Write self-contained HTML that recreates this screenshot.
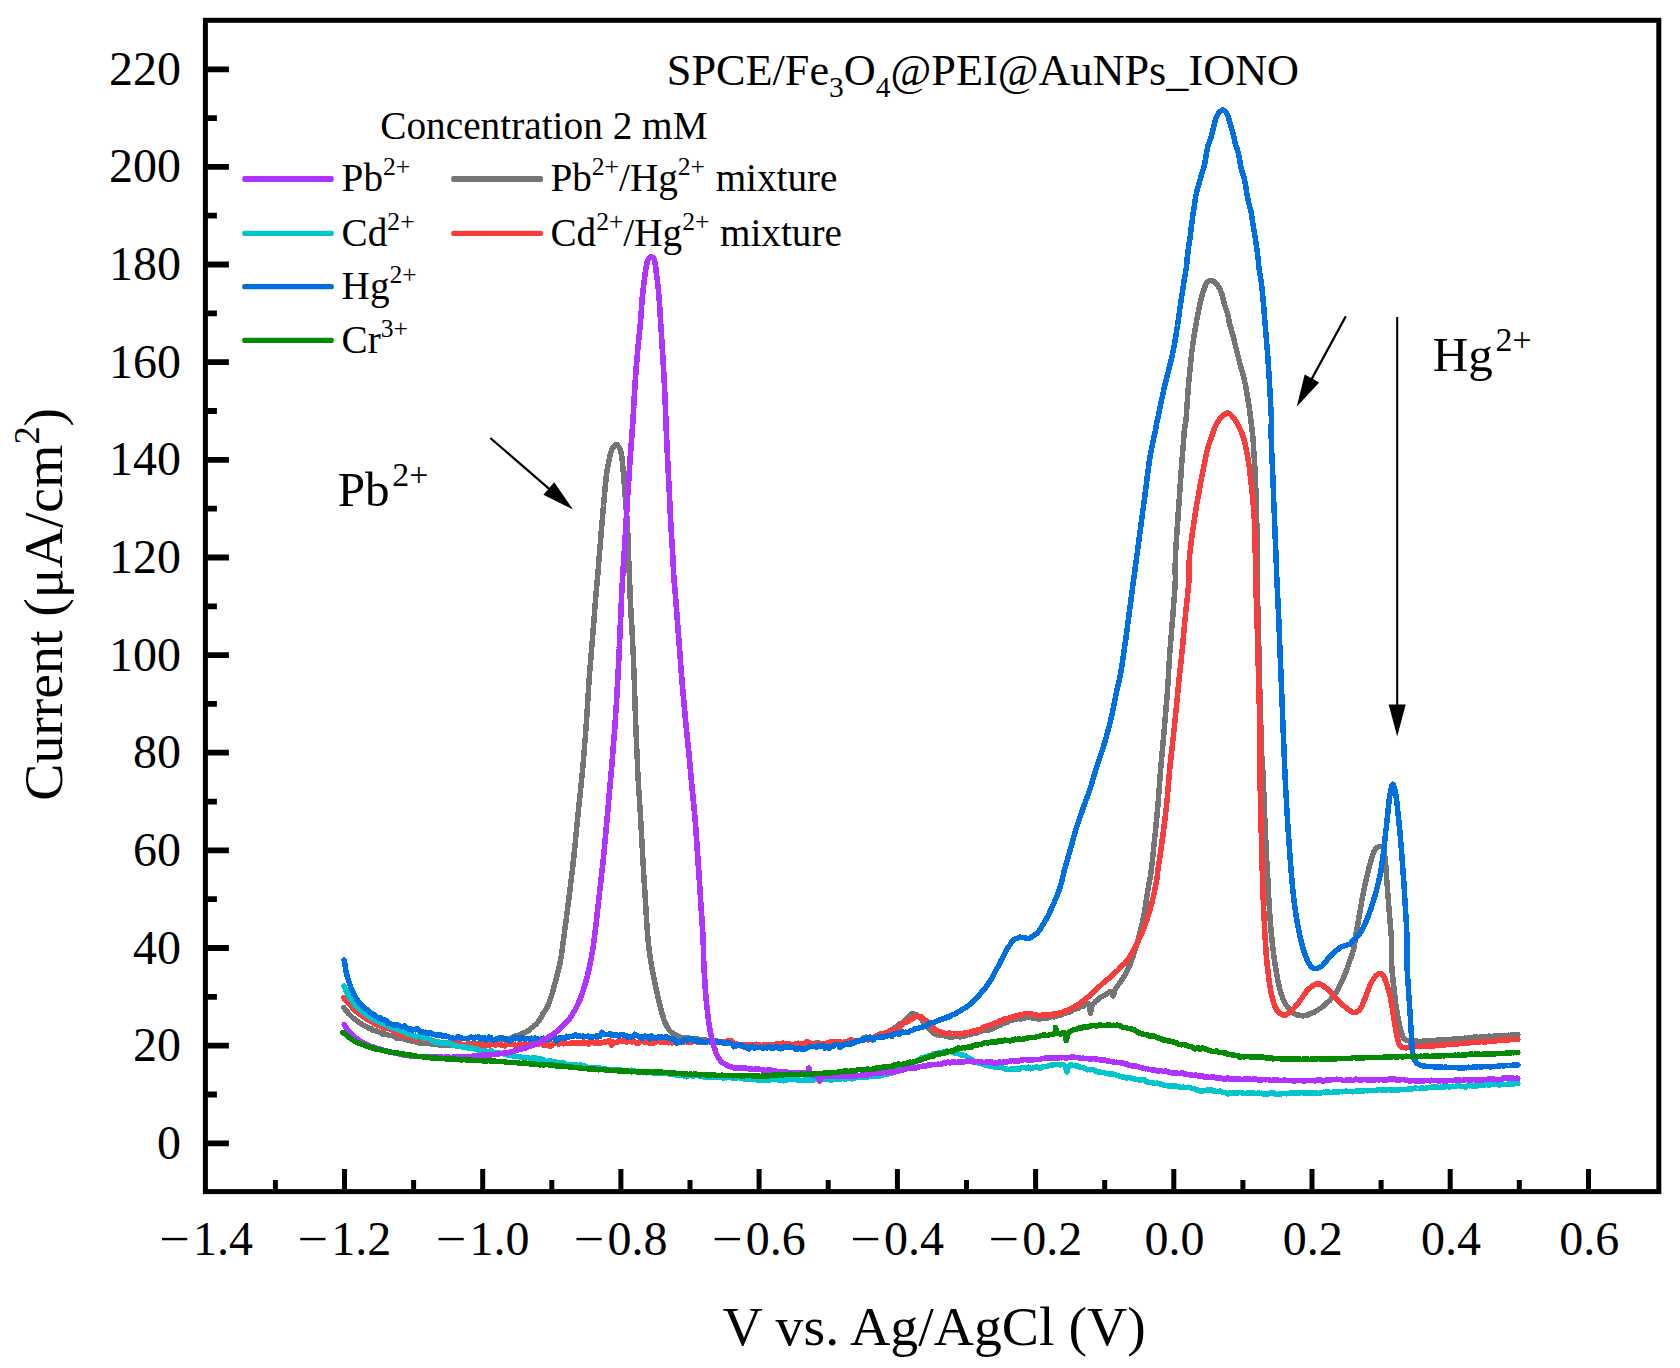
<!DOCTYPE html>
<html lang="en">
<head>
<meta charset="utf-8">
<title>DPASV chart</title>
<style>
html,body{margin:0;padding:0;background:#fff;}
body{width:1680px;height:1368px;overflow:hidden;}
svg{display:block;}
text{font-family:"Liberation Serif", "Times New Roman", Times, serif;fill:#000;}
.curve{fill:none;stroke-linecap:round;stroke-linejoin:round;}
</style>
</head>
<body>
<svg width="1680" height="1368" viewBox="0 0 1680 1368">
<rect x="0" y="0" width="1680" height="1368" fill="#fff"/>
<g id="curves" shape-rendering="crispEdges">
<path class="curve" stroke="#757575" stroke-width="5.5" d="M343.8 1007.6L344.4 1008.4L345.3 1009.5L346.4 1011.0L347.6 1012.4L348.8 1014.0L350.0 1014.9L351.1 1016.0L352.3 1017.3L353.5 1018.2L354.8 1019.1L356.1 1020.2L357.5 1021.3L358.8 1022.1L360.1 1023.0L361.5 1024.0L362.9 1024.9L364.4 1025.6L365.9 1026.4L367.5 1027.3L368.9 1028.4L370.2 1028.4L371.5 1028.9L372.8 1030.1L374.3 1030.5L375.9 1030.8L377.8 1031.5L380.0 1032.6L381.2 1033.1L382.5 1034.0L383.9 1034.1L385.4 1034.1L386.9 1034.7L388.5 1035.2L390.1 1035.4L391.7 1035.6L393.4 1036.0L395.1 1036.9L396.8 1038.2L398.5 1037.8L400.1 1038.5L401.8 1038.2L403.4 1038.6L405.0 1039.1L406.7 1039.8L408.3 1040.5L410.0 1040.8L411.7 1040.7L413.3 1041.2L415.0 1041.7L416.7 1042.2L418.3 1042.8L420.0 1043.1L421.7 1043.3L423.3 1043.1L425.0 1043.1L426.7 1043.4L428.3 1043.4L430.0 1043.7L431.7 1044.1L433.3 1044.1L435.0 1044.4L436.7 1044.6L438.3 1044.8L440.0 1044.8L441.7 1044.8L443.3 1045.5L445.0 1044.8L446.7 1045.2L448.3 1045.0L450.0 1044.8L451.7 1045.0L453.3 1044.7L455.0 1045.3L456.7 1045.6L458.3 1045.5L460.0 1045.4L461.7 1044.6L463.3 1044.8L465.0 1044.4L466.7 1044.8L468.3 1044.2L470.0 1044.0L471.7 1043.7L473.3 1043.4L475.0 1044.3L476.7 1044.0L478.3 1043.2L480.0 1043.0L481.7 1042.6L483.4 1042.1L485.2 1042.6L487.1 1041.4L488.9 1041.3L490.7 1041.9L492.5 1041.4L494.3 1041.1L496.1 1040.5L497.8 1040.8L499.4 1040.2L501.0 1040.1L502.4 1039.9L503.8 1039.4L505.0 1039.5L507.5 1038.9L509.4 1038.5L510.8 1038.2L512.0 1037.3L513.4 1037.0L515.0 1036.2L516.5 1035.5L518.0 1035.6L519.6 1034.9L521.2 1034.2L522.9 1033.3L524.5 1032.5L526.0 1032.1L527.5 1031.0L528.9 1030.4L530.3 1028.8L531.6 1027.5L532.9 1027.2L534.1 1025.7L535.3 1024.7L536.4 1024.0L537.5 1022.6L538.6 1021.3L539.6 1019.7L540.5 1018.3L541.4 1016.8L542.2 1015.4L543.0 1013.6L543.8 1012.4L544.7 1011.2L545.5 1010.0L546.3 1008.6L547.1 1007.3L547.9 1005.8L548.8 1003.7L549.2 1002.3L549.7 1001.1L550.2 999.7L550.7 998.2L551.2 996.7L551.7 995.0L552.2 993.3L552.7 991.5L553.2 989.5L553.8 987.4L554.2 986.1L554.5 984.8L554.9 983.3L555.4 981.8L555.8 980.3L556.2 978.7L556.6 977.0L557.0 975.5L557.5 973.9L557.9 972.2L558.3 970.6L558.7 969.0L559.1 967.3L559.4 965.6L559.8 964.1L560.1 962.5L560.4 960.9L560.7 959.3L561.0 957.8L561.2 956.3L561.4 954.8L561.7 953.4L561.9 951.9L562.1 950.4L562.3 948.8L562.5 947.2L562.7 945.5L562.9 943.8L563.2 942.0L563.4 940.0L563.7 937.9L563.9 936.6L564.1 935.1L564.3 933.7L564.5 932.2L564.7 930.6L564.9 929.1L565.1 927.5L565.3 925.9L565.6 924.2L565.8 922.5L566.0 920.8L566.2 919.1L566.5 917.3L566.7 915.6L566.9 913.8L567.1 912.1L567.4 910.4L567.6 908.6L567.8 906.9L568.0 905.2L568.3 903.4L568.5 901.7L568.7 900.1L568.9 898.4L569.1 896.8L569.3 895.1L569.5 893.5L569.7 891.8L569.9 890.2L570.1 888.5L570.3 886.9L570.5 885.2L570.7 883.6L570.9 881.9L571.1 880.3L571.3 878.6L571.5 877.0L571.7 875.4L571.9 873.7L572.1 872.1L572.3 870.4L572.5 868.8L572.7 867.1L572.9 865.5L573.1 863.8L573.2 862.2L573.4 860.5L573.6 858.9L573.8 857.3L574.0 855.6L574.1 854.0L574.3 852.3L574.5 850.7L574.6 849.1L574.8 847.4L575.0 845.8L575.1 844.1L575.3 842.5L575.4 840.8L575.6 839.2L575.7 837.6L575.9 835.9L576.1 834.3L576.2 832.6L576.4 831.0L576.5 829.3L576.7 827.7L576.8 826.1L577.0 824.4L577.2 822.8L577.3 821.1L577.5 819.5L577.7 817.8L577.8 816.2L578.0 814.5L578.2 812.7L578.4 811.0L578.6 809.2L578.7 807.5L578.9 805.7L579.1 803.9L579.3 802.2L579.5 800.4L579.7 798.7L579.9 796.9L580.0 795.2L580.2 793.6L580.4 791.9L580.6 790.3L580.7 788.6L580.9 787.1L581.0 785.6L581.2 784.1L581.3 782.7L581.5 781.3L581.6 780.0L581.8 777.8L582.0 775.8L582.2 774.1L582.3 772.5L582.5 771.0L582.6 769.6L582.7 768.3L582.8 766.9L583.0 765.4L583.1 763.8L583.3 762.1L583.4 760.1L583.6 757.9L583.7 756.6L583.8 755.2L583.9 753.8L584.1 752.3L584.2 750.8L584.3 749.2L584.4 747.7L584.6 746.0L584.7 744.4L584.8 742.7L585.0 741.0L585.1 739.2L585.3 737.5L585.4 735.7L585.5 734.0L585.7 732.2L585.8 730.4L585.9 728.7L586.1 726.9L586.2 725.2L586.3 723.5L586.5 721.7L586.6 720.1L586.7 718.4L586.8 716.8L586.9 715.1L587.0 713.5L587.1 711.8L587.2 710.2L587.4 708.5L587.5 706.9L587.6 705.2L587.7 703.6L587.7 701.9L587.8 700.3L587.9 698.6L588.0 697.0L588.1 695.4L588.2 693.7L588.3 692.1L588.4 690.4L588.5 688.8L588.6 687.1L588.7 685.5L588.9 683.8L589.0 682.2L589.1 680.5L589.2 678.9L589.3 677.3L589.4 675.6L589.6 674.0L589.7 672.3L589.8 670.7L590.0 669.0L590.1 667.4L590.2 665.8L590.4 664.1L590.5 662.5L590.6 660.8L590.8 659.2L590.9 657.6L591.0 655.9L591.2 654.3L591.3 652.6L591.5 651.0L591.6 649.4L591.7 647.7L591.9 646.1L592.0 644.4L592.1 642.8L592.3 641.1L592.4 639.5L592.5 637.8L592.7 636.1L592.8 634.4L592.9 632.7L593.1 631.0L593.2 629.2L593.3 627.5L593.5 625.7L593.6 623.9L593.8 622.2L593.9 620.4L594.0 618.7L594.2 616.9L594.3 615.2L594.4 613.5L594.6 611.9L594.7 610.3L594.8 608.7L594.9 607.1L595.0 605.6L595.2 604.1L595.3 602.7L595.4 601.3L595.5 600.0L595.7 597.7L595.9 595.7L596.0 593.8L596.2 592.1L596.3 590.4L596.5 588.9L596.6 587.4L596.8 585.9L596.9 584.4L597.1 582.9L597.2 581.3L597.3 579.7L597.5 577.9L597.6 576.4L597.8 574.8L597.9 573.2L598.0 571.6L598.1 570.0L598.3 568.4L598.4 566.7L598.5 565.0L598.7 563.3L598.8 561.6L598.9 560.0L599.1 558.3L599.2 556.6L599.3 554.9L599.5 553.3L599.6 551.6L599.7 550.0L599.9 548.3L600.0 546.7L600.1 545.0L600.3 543.4L600.4 541.7L600.6 540.1L600.7 538.5L600.8 536.8L601.0 535.2L601.1 533.5L601.2 531.9L601.4 530.2L601.5 528.6L601.7 526.9L601.8 525.3L601.9 523.6L602.1 522.0L602.2 520.4L602.4 518.7L602.5 517.1L602.6 515.4L602.8 513.8L602.9 512.1L603.1 510.4L603.2 508.8L603.3 507.1L603.5 505.5L603.6 503.8L603.8 502.2L603.9 500.5L604.1 498.9L604.3 497.2L604.4 495.6L604.6 493.9L604.7 492.2L604.9 490.5L605.0 488.7L605.2 487.0L605.4 485.3L605.5 483.6L605.7 482.0L605.9 480.3L606.0 478.7L606.2 477.1L606.4 475.6L606.6 474.1L606.8 472.6L607.1 470.7L607.4 468.8L607.7 466.9L608.1 465.0L608.4 463.2L608.8 461.5L609.1 459.8L609.5 458.2L609.8 456.7L610.1 455.3L610.4 454.0L610.7 452.9L611.4 450.4L612.0 448.7L612.6 447.5L613.2 447.0L614.5 445.5L615.9 444.5L617.3 444.8L618.6 446.7L619.3 447.5L619.9 448.8L620.6 450.3L621.2 452.9L621.4 454.0L621.6 455.3L621.8 456.7L621.9 458.2L622.1 459.8L622.3 461.5L622.5 463.2L622.6 465.0L622.8 466.9L623.0 468.8L623.1 470.7L623.3 472.6L623.4 474.1L623.6 475.6L623.7 477.1L623.8 478.7L624.0 480.3L624.1 482.0L624.2 483.6L624.4 485.3L624.5 487.0L624.6 488.7L624.8 490.5L624.9 492.2L625.0 493.9L625.1 495.6L625.3 497.2L625.4 498.9L625.5 500.5L625.7 502.2L625.8 503.9L625.9 505.5L626.1 507.2L626.2 508.8L626.3 510.5L626.5 512.1L626.6 513.7L626.7 515.4L626.9 517.0L627.0 518.7L627.1 520.4L627.2 522.0L627.3 523.7L627.4 525.3L627.5 526.9L627.6 528.6L627.6 530.2L627.7 531.9L627.8 533.5L627.8 535.2L627.9 536.8L628.0 538.5L628.0 540.1L628.1 541.7L628.1 543.4L628.2 545.0L628.2 546.7L628.3 548.3L628.3 550.0L628.4 551.6L628.5 553.3L628.5 554.9L628.6 556.6L628.7 558.3L628.7 560.0L628.8 561.6L628.9 563.3L629.0 565.0L629.0 566.7L629.1 568.3L629.2 570.0L629.2 571.6L629.3 573.2L629.4 574.8L629.4 576.4L629.5 577.9L629.6 579.7L629.6 581.4L629.7 582.9L629.7 584.4L629.8 585.9L629.8 587.4L629.9 588.9L629.9 590.4L630.0 592.1L630.0 593.8L630.1 595.7L630.2 597.7L630.3 600.0L630.4 601.3L630.4 602.7L630.5 604.1L630.6 605.6L630.7 607.1L630.8 608.7L630.9 610.3L630.9 611.9L631.0 613.5L631.1 615.2L631.2 616.9L631.3 618.7L631.4 620.4L631.5 622.2L631.7 623.9L631.8 625.7L631.9 627.5L632.0 629.2L632.1 631.0L632.1 632.7L632.2 634.4L632.3 636.2L632.4 637.8L632.5 639.5L632.6 641.1L632.7 642.8L632.7 644.4L632.8 646.1L632.9 647.7L633.0 649.4L633.0 651.0L633.1 652.6L633.2 654.3L633.3 655.9L633.3 657.6L633.4 659.2L633.5 660.8L633.5 662.5L633.6 664.1L633.7 665.8L633.7 667.4L633.8 669.0L633.9 670.7L633.9 672.3L634.0 674.0L634.1 675.6L634.1 677.3L634.2 678.9L634.3 680.5L634.3 682.2L634.4 683.8L634.4 685.5L634.5 687.1L634.5 688.8L634.6 690.4L634.6 692.1L634.7 693.7L634.7 695.4L634.8 697.0L634.9 698.6L634.9 700.3L635.0 701.9L635.0 703.6L635.1 705.2L635.1 706.9L635.2 708.5L635.2 710.2L635.3 711.8L635.3 713.5L635.4 715.1L635.4 716.8L635.5 718.4L635.6 720.1L635.6 721.7L635.7 723.5L635.8 725.2L635.8 726.9L635.9 728.7L636.0 730.4L636.1 732.2L636.1 734.0L636.2 735.7L636.3 737.5L636.4 739.2L636.4 741.0L636.5 742.7L636.6 744.4L636.7 746.0L636.7 747.7L636.8 749.3L636.9 750.8L637.0 752.3L637.0 753.8L637.1 755.2L637.1 756.6L637.2 757.9L637.3 760.1L637.4 762.1L637.4 763.8L637.5 765.4L637.6 766.9L637.6 768.3L637.7 769.6L637.7 771.0L637.8 772.5L637.9 774.1L638.0 775.8L638.1 777.8L638.2 780.0L638.3 781.3L638.4 782.7L638.4 784.1L638.5 785.6L638.6 787.1L638.7 788.6L638.8 790.2L638.9 791.9L639.0 793.5L639.2 795.2L639.3 796.9L639.4 798.7L639.5 800.4L639.6 802.2L639.7 803.9L639.8 805.7L640.0 807.5L640.1 809.2L640.2 811.0L640.3 812.7L640.4 814.4L640.5 816.2L640.6 817.8L640.7 819.5L640.8 821.1L640.9 822.8L641.0 824.4L641.1 826.1L641.2 827.7L641.2 829.4L641.3 831.0L641.4 832.6L641.5 834.3L641.6 835.9L641.7 837.6L641.8 839.2L641.8 840.8L641.9 842.5L642.0 844.1L642.1 845.8L642.2 847.4L642.3 849.0L642.3 850.7L642.4 852.3L642.5 854.0L642.6 855.6L642.7 857.3L642.8 858.9L642.9 860.5L643.0 862.2L643.1 863.8L643.2 865.5L643.3 867.1L643.4 868.8L643.5 870.4L643.6 872.1L643.7 873.7L643.8 875.4L643.9 877.0L644.0 878.6L644.1 880.3L644.2 881.9L644.3 883.6L644.4 885.2L644.6 886.9L644.7 888.5L644.8 890.2L644.9 891.8L645.0 893.5L645.1 895.1L645.2 896.8L645.3 898.4L645.4 900.1L645.5 901.7L645.6 903.4L645.7 905.1L645.8 906.8L645.9 908.6L646.0 910.3L646.1 912.0L646.2 913.7L646.3 915.5L646.4 917.2L646.5 918.9L646.6 920.6L646.7 922.3L646.8 924.0L647.0 925.6L647.1 927.2L647.2 928.9L647.3 930.4L647.4 932.0L647.5 933.5L647.6 935.0L647.8 936.5L647.9 937.9L648.1 939.8L648.3 941.7L648.4 943.5L648.6 945.2L648.8 946.8L649.0 948.4L649.2 950.0L649.4 951.6L649.6 953.1L649.8 954.6L650.0 956.1L650.2 957.6L650.5 959.1L650.7 960.6L651.0 962.2L651.2 963.8L651.5 965.5L651.8 967.1L652.1 968.8L652.4 970.4L652.7 972.1L653.0 973.8L653.4 975.5L653.7 977.3L654.1 979.0L654.4 980.7L654.8 982.4L655.1 984.2L655.5 985.8L655.8 987.4L656.2 989.1L656.5 990.6L656.9 992.1L657.2 993.5L657.5 994.9L658.0 997.0L658.4 999.0L658.8 1000.8L659.2 1002.6L659.7 1004.4L660.1 1006.1L660.5 1007.8L660.9 1009.3L661.3 1010.7L661.7 1012.2L662.1 1013.7L662.5 1015.1L663.1 1016.9L663.7 1018.9L664.3 1020.5L664.8 1022.1L665.4 1023.5L666.1 1024.8L666.8 1026.1L667.5 1027.4L668.6 1029.2L669.7 1030.7L670.9 1031.9L672.2 1032.6L673.6 1033.8L675.0 1034.8L676.4 1035.3L677.8 1036.4L679.2 1036.8L680.8 1037.3L682.7 1037.8L685.0 1037.9L686.3 1037.7L687.7 1037.9L689.2 1037.9L690.7 1039.1L692.4 1039.3L694.1 1038.9L695.8 1038.9L697.6 1039.1L699.4 1039.5L701.3 1039.3L703.1 1039.5L705.0 1039.8L706.6 1040.4L708.2 1040.5L709.9 1040.3L711.7 1040.1L713.5 1040.4L715.4 1040.6L717.2 1041.2L719.0 1041.4L720.8 1041.8L722.6 1042.4L724.3 1042.6L725.9 1042.6L727.4 1043.2L728.8 1043.6L730.0 1042.9L732.1 1043.5L733.0 1044.5L733.4 1044.1L734.3 1044.3L736.2 1044.9L740.0 1045.1L741.0 1045.2L742.1 1045.0L743.3 1045.1L744.5 1045.4L745.8 1045.2L747.2 1045.5L748.6 1045.2L750.1 1044.4L751.6 1044.7L753.2 1044.8L754.8 1044.8L756.4 1045.1L758.1 1044.5L759.9 1044.8L761.6 1045.7L763.4 1044.8L765.2 1044.9L767.0 1045.4L768.8 1044.8L770.6 1044.4L772.5 1044.6L774.3 1044.9L776.1 1044.8L777.9 1044.6L779.7 1044.5L781.5 1044.0L783.3 1044.1L785.0 1044.9L786.7 1044.5L788.4 1044.5L790.0 1043.9L791.6 1044.7L793.3 1044.9L794.9 1044.3L796.6 1043.9L798.3 1043.2L800.1 1044.3L801.8 1043.7L803.5 1043.3L805.3 1044.0L807.0 1043.4L808.8 1042.7L810.5 1043.6L812.2 1044.6L814.0 1044.1L815.7 1043.2L817.4 1043.2L819.1 1043.1L820.8 1043.6L822.5 1043.8L824.1 1043.7L825.7 1043.3L827.3 1043.4L828.9 1042.8L830.4 1043.4L831.9 1043.5L833.4 1042.9L834.8 1043.1L836.1 1042.8L837.5 1042.5L838.8 1041.9L840.0 1042.1L842.4 1042.8L844.6 1042.0L846.7 1042.0L848.6 1042.5L850.4 1043.1L852.0 1040.8L853.6 1041.4L855.1 1041.2L856.6 1041.3L858.0 1040.9L859.3 1040.9L860.7 1040.4L862.1 1039.7L863.5 1038.0L865.0 1039.1L866.9 1039.4L868.7 1038.7L870.5 1038.3L872.2 1038.4L873.9 1037.8L875.6 1037.4L877.3 1037.2L878.9 1036.1L880.5 1036.0L882.0 1035.4L883.5 1034.4L885.0 1034.1L886.6 1034.4L888.1 1032.8L889.6 1031.5L891.0 1030.3L892.4 1029.4L893.8 1028.5L895.1 1027.5L896.4 1027.3L897.6 1026.3L898.8 1025.0L900.0 1023.7L901.5 1023.5L903.0 1022.2L904.3 1020.7L905.6 1019.7L906.8 1018.4L908.0 1017.2L909.0 1016.5L910.0 1015.4L911.9 1013.8L913.3 1014.0L915.0 1014.4L916.3 1014.9L917.8 1016.3L919.4 1017.3L921.0 1018.8L922.5 1020.7L923.5 1021.9L924.6 1023.2L925.6 1024.4L926.6 1025.9L927.7 1027.3L928.8 1028.4L930.0 1030.2L931.5 1031.0L933.1 1032.8L934.7 1033.5L936.4 1034.8L938.2 1034.6L940.0 1035.5L941.7 1035.6L943.4 1035.7L945.2 1035.8L947.0 1036.3L948.9 1037.0L950.7 1037.2L952.5 1037.3L954.3 1036.4L956.1 1036.3L957.9 1036.3L959.6 1036.9L961.4 1036.6L963.2 1036.2L965.0 1035.8L966.6 1034.9L968.1 1034.7L969.7 1034.8L971.2 1034.1L972.8 1033.6L974.4 1033.1L975.9 1033.1L977.5 1032.9L979.1 1031.9L980.6 1031.5L982.2 1030.6L983.8 1030.6L985.3 1030.3L986.9 1029.3L988.4 1030.2L990.0 1029.5L991.6 1029.1L993.1 1028.5L994.7 1027.4L996.2 1026.5L997.8 1025.9L999.4 1025.5L1000.9 1025.0L1002.5 1023.6L1004.1 1023.2L1005.6 1022.2L1007.2 1022.5L1008.8 1021.2L1010.3 1020.0L1011.9 1020.3L1013.4 1019.4L1015.0 1019.1L1016.8 1019.1L1018.6 1018.5L1020.4 1019.1L1022.1 1018.2L1023.9 1018.3L1025.7 1017.5L1027.5 1017.7L1029.3 1017.4L1031.1 1017.3L1032.9 1018.2L1034.6 1018.1L1036.4 1017.7L1038.2 1018.9L1040.0 1019.1L1041.8 1018.3L1043.6 1018.2L1045.4 1018.4L1047.1 1017.9L1048.9 1017.7L1050.7 1017.1L1052.5 1016.6L1054.1 1017.0L1055.6 1016.5L1057.2 1015.4L1058.8 1015.6L1060.3 1015.0L1061.9 1014.6L1063.4 1013.9L1065.0 1013.2L1066.6 1012.2L1068.2 1012.1L1069.9 1011.9L1071.6 1011.0L1073.2 1009.8L1074.7 1009.2L1076.2 1009.0L1077.5 1008.5L1079.4 1007.6L1081.0 1006.5L1082.5 1006.0L1083.8 1005.9L1085.0 1004.7L1087.2 1003.4L1088.8 1004.2L1089.2 1005.3L1089.6 1007.4L1089.9 1009.7L1090.2 1011.7L1090.5 1013.1L1090.8 1011.8L1091.0 1009.8L1091.4 1007.3L1092.5 1004.9L1093.4 1003.6L1094.5 1002.7L1095.7 1001.0L1097.1 1000.3L1098.5 999.3L1099.9 997.7L1101.3 996.9L1102.5 996.2L1104.1 995.4L1105.8 994.4L1107.4 993.5L1108.9 992.3L1110.2 991.8L1111.2 991.4L1112.3 992.5L1112.7 995.0L1113.0 996.1L1113.5 995.6L1114.0 993.7L1114.5 991.7L1115.0 989.9L1115.8 988.5L1117.5 986.2L1118.1 985.1L1118.9 983.9L1119.8 982.6L1120.7 981.4L1121.7 979.9L1122.7 978.6L1123.7 976.8L1124.8 975.1L1125.7 973.5L1126.7 971.8L1127.5 969.9L1128.2 968.5L1128.8 967.3L1129.4 965.8L1130.0 964.5L1130.6 963.1L1131.1 961.6L1131.7 960.0L1132.2 958.6L1132.8 957.0L1133.3 955.1L1133.9 953.5L1134.4 951.8L1135.0 950.0L1135.4 948.5L1135.9 947.1L1136.4 945.6L1136.8 944.2L1137.3 942.6L1137.7 941.1L1138.2 939.4L1138.7 937.7L1139.1 936.0L1139.6 934.4L1140.0 932.7L1140.5 931.0L1140.9 929.3L1141.3 927.5L1141.7 925.8L1142.1 924.1L1142.5 922.5L1142.8 921.1L1143.1 919.4L1143.4 917.8L1143.7 916.2L1144.0 914.6L1144.3 913.0L1144.6 911.3L1144.8 909.6L1145.1 908.0L1145.4 906.4L1145.6 904.7L1145.9 903.1L1146.1 901.5L1146.3 899.9L1146.6 898.4L1146.8 896.8L1147.0 895.4L1147.3 893.9L1147.5 892.5L1147.8 890.6L1148.1 888.9L1148.4 887.2L1148.7 885.5L1149.0 883.9L1149.3 882.4L1149.6 880.8L1149.8 879.2L1150.1 877.7L1150.4 876.2L1150.6 874.6L1150.9 873.1L1151.1 871.6L1151.3 870.0L1151.5 868.3L1151.7 866.7L1151.9 865.2L1152.1 863.8L1152.3 862.3L1152.4 860.8L1152.6 859.2L1152.7 857.6L1152.9 856.0L1153.1 854.2L1153.2 852.2L1153.5 850.2L1153.7 847.9L1153.8 846.6L1154.0 845.2L1154.1 843.8L1154.3 842.3L1154.4 840.8L1154.6 839.3L1154.7 837.7L1154.9 836.0L1155.1 834.4L1155.3 832.7L1155.4 831.0L1155.6 829.2L1155.8 827.5L1156.0 825.8L1156.1 824.0L1156.3 822.2L1156.5 820.5L1156.7 818.7L1156.8 816.9L1157.0 815.2L1157.2 813.5L1157.3 811.8L1157.5 810.1L1157.6 808.4L1157.8 806.8L1157.9 805.1L1158.1 803.5L1158.2 801.8L1158.3 800.2L1158.4 798.6L1158.6 796.9L1158.7 795.3L1158.8 793.6L1158.9 792.0L1159.1 790.3L1159.2 788.7L1159.3 787.0L1159.4 785.4L1159.5 783.7L1159.6 782.1L1159.8 780.5L1159.9 778.8L1160.0 777.2L1160.1 775.5L1160.3 773.9L1160.4 772.2L1160.5 770.6L1160.7 769.0L1160.8 767.3L1160.9 765.7L1161.1 764.0L1161.2 762.4L1161.4 760.7L1161.5 759.1L1161.7 757.4L1161.8 755.8L1162.0 754.2L1162.1 752.5L1162.3 750.9L1162.4 749.2L1162.6 747.6L1162.7 745.9L1162.9 744.3L1163.0 742.6L1163.2 741.0L1163.3 739.3L1163.5 737.7L1163.6 736.0L1163.8 734.4L1163.9 732.8L1164.1 731.1L1164.2 729.5L1164.4 727.8L1164.5 726.2L1164.6 724.5L1164.8 722.8L1164.9 721.1L1165.1 719.4L1165.2 717.8L1165.4 716.1L1165.5 714.4L1165.7 712.7L1165.8 711.0L1166.0 709.3L1166.1 707.7L1166.2 706.0L1166.4 704.3L1166.5 702.7L1166.6 701.0L1166.8 699.4L1166.9 697.8L1167.0 696.2L1167.2 694.6L1167.3 693.1L1167.4 691.5L1167.5 690.0L1167.6 688.2L1167.7 686.5L1167.9 684.7L1168.0 683.1L1168.1 681.4L1168.2 679.8L1168.3 678.2L1168.3 676.6L1168.4 675.0L1168.5 673.4L1168.6 671.8L1168.7 670.2L1168.8 668.6L1168.9 667.0L1169.0 665.4L1169.1 663.8L1169.2 662.1L1169.3 660.5L1169.4 658.7L1169.5 657.0L1169.6 655.5L1169.7 653.9L1169.8 652.3L1170.0 650.7L1170.1 649.1L1170.2 647.5L1170.3 645.9L1170.5 644.3L1170.6 642.7L1170.7 641.0L1170.9 639.4L1171.0 637.7L1171.2 636.0L1171.3 634.4L1171.4 632.7L1171.6 631.1L1171.7 629.4L1171.8 627.7L1172.0 626.1L1172.1 624.4L1172.2 622.8L1172.4 621.1L1172.5 619.5L1172.6 617.8L1172.8 616.2L1172.9 614.4L1173.0 612.7L1173.2 610.9L1173.3 609.1L1173.5 607.3L1173.6 605.4L1173.7 603.6L1173.9 601.8L1174.0 600.0L1174.1 598.3L1174.3 596.5L1174.4 594.8L1174.5 593.2L1174.6 591.5L1174.8 590.0L1174.9 588.5L1175.0 587.0L1175.0 585.6L1175.1 584.3L1175.2 583.1L1175.2 582.0L1175.4 579.0L1175.4 577.0L1175.3 575.6L1175.2 574.5L1175.1 573.4L1175.0 572.0L1175.0 570.0L1175.0 568.6L1175.1 567.1L1175.1 565.5L1175.2 563.9L1175.3 562.1L1175.3 560.3L1175.4 558.5L1175.5 556.7L1175.6 554.9L1175.7 553.0L1175.7 551.3L1175.8 549.5L1175.9 547.9L1176.0 546.2L1176.1 544.5L1176.2 542.8L1176.3 541.1L1176.4 539.5L1176.6 537.9L1176.7 536.3L1176.8 534.6L1176.9 533.0L1177.0 531.4L1177.1 529.8L1177.2 528.2L1177.3 526.5L1177.5 524.9L1177.6 523.2L1177.7 521.6L1177.8 519.9L1177.9 518.3L1178.0 516.6L1178.1 515.0L1178.2 513.4L1178.3 511.7L1178.4 510.1L1178.6 508.4L1178.7 506.8L1178.8 505.1L1178.9 503.5L1179.0 501.8L1179.2 500.2L1179.3 498.5L1179.4 496.9L1179.5 495.3L1179.6 493.6L1179.8 492.0L1179.9 490.3L1180.0 488.7L1180.1 487.0L1180.2 485.4L1180.3 483.8L1180.4 482.1L1180.5 480.5L1180.6 478.8L1180.8 477.2L1180.9 475.5L1181.0 473.9L1181.1 472.2L1181.2 470.6L1181.3 468.9L1181.4 467.3L1181.6 465.7L1181.7 464.0L1181.8 462.4L1182.0 460.7L1182.1 459.1L1182.2 457.4L1182.4 455.8L1182.5 454.1L1182.6 452.5L1182.8 450.9L1182.9 449.2L1183.0 447.5L1183.2 445.8L1183.3 444.0L1183.4 442.2L1183.6 440.4L1183.7 438.6L1183.8 436.9L1184.0 435.2L1184.1 433.6L1184.2 432.1L1184.3 430.7L1184.5 429.5L1184.8 427.1L1185.1 425.5L1185.4 424.2L1185.7 422.8L1185.9 421.0L1186.1 419.6L1186.2 418.1L1186.3 416.5L1186.4 414.8L1186.5 413.0L1186.6 411.3L1186.7 409.6L1186.8 407.9L1187.0 406.3L1187.1 404.6L1187.2 403.0L1187.3 401.3L1187.4 399.7L1187.5 398.0L1187.6 396.4L1187.8 394.7L1187.9 393.1L1188.0 391.5L1188.1 389.8L1188.3 388.2L1188.4 386.5L1188.5 384.9L1188.7 383.2L1188.8 381.6L1189.0 379.9L1189.1 378.3L1189.3 376.6L1189.5 375.0L1189.6 373.4L1189.8 371.7L1190.0 370.1L1190.1 368.4L1190.3 366.8L1190.5 365.1L1190.6 363.5L1190.8 361.8L1190.9 360.2L1191.1 358.6L1191.3 356.9L1191.4 355.3L1191.6 353.6L1191.8 352.0L1192.0 350.3L1192.3 348.7L1192.5 347.0L1192.7 345.4L1192.9 343.7L1193.2 342.1L1193.4 340.4L1193.6 338.8L1193.9 337.1L1194.1 335.4L1194.4 333.8L1194.6 332.1L1194.9 330.5L1195.1 328.9L1195.4 327.2L1195.7 325.5L1196.1 323.8L1196.4 322.1L1196.7 320.5L1197.0 318.8L1197.4 317.1L1197.7 315.4L1198.0 313.7L1198.3 312.0L1198.7 310.3L1199.0 308.7L1199.4 306.9L1199.7 305.3L1200.1 303.5L1200.5 301.8L1200.9 300.0L1201.3 298.3L1201.8 296.6L1202.2 294.9L1202.6 293.4L1203.3 291.3L1204.0 289.4L1204.7 287.4L1205.3 285.7L1205.9 284.4L1207.0 282.5L1207.9 281.5L1210.3 280.5L1212.9 281.1L1215.1 282.5L1216.4 283.8L1217.8 285.5L1219.1 287.5L1219.9 289.1L1220.7 290.9L1221.4 292.8L1222.1 294.7L1222.6 296.5L1223.0 298.3L1223.4 300.2L1223.9 302.1L1224.3 303.9L1224.8 305.5L1225.3 307.0L1225.9 308.4L1226.4 310.0L1226.9 311.6L1227.4 313.2L1227.8 314.9L1228.2 316.6L1228.5 318.4L1228.9 320.2L1229.2 322.0L1229.6 323.7L1230.1 325.6L1230.6 327.4L1231.2 329.2L1231.7 331.0L1232.2 332.9L1232.7 334.5L1233.1 336.3L1233.6 338.1L1234.0 339.8L1234.4 341.6L1234.9 343.4L1235.3 345.2L1235.7 346.9L1236.2 348.7L1236.6 350.5L1237.1 352.2L1237.5 354.0L1237.9 355.7L1238.4 357.5L1238.8 359.3L1239.3 361.1L1239.7 362.8L1240.1 364.5L1240.7 366.4L1241.2 368.3L1241.7 370.0L1242.3 371.8L1242.8 373.7L1243.2 375.5L1243.7 377.4L1244.2 379.3L1244.6 381.1L1245.0 382.9L1245.4 384.7L1245.7 386.5L1246.1 388.3L1246.4 390.2L1246.7 392.1L1247.0 393.8L1247.3 395.5L1247.6 397.3L1247.9 399.1L1248.1 400.9L1248.4 402.6L1248.7 404.4L1249.0 406.1L1249.2 407.9L1249.5 409.7L1249.8 411.4L1250.0 413.2L1250.2 414.9L1250.4 416.6L1250.7 418.2L1250.9 419.9L1251.1 421.8L1251.3 423.7L1251.5 425.2L1251.7 426.8L1251.9 428.5L1252.1 430.2L1252.3 431.9L1252.5 433.7L1252.7 435.5L1252.9 437.4L1253.0 439.0L1253.2 440.7L1253.3 442.5L1253.4 444.2L1253.5 446.0L1253.6 447.8L1253.7 449.6L1253.8 451.4L1253.9 453.2L1254.1 454.9L1254.2 456.6L1254.3 458.3L1254.4 460.0L1254.5 461.7L1254.6 463.4L1254.7 465.2L1254.8 467.0L1254.9 469.0L1254.9 470.5L1255.0 472.0L1255.1 473.6L1255.2 475.2L1255.3 476.9L1255.3 478.6L1255.4 480.3L1255.5 482.0L1255.6 483.7L1255.7 485.3L1255.7 487.0L1255.8 488.7L1255.9 490.3L1255.9 492.0L1256.0 493.6L1256.0 495.3L1256.1 496.9L1256.2 498.6L1256.2 500.2L1256.3 501.8L1256.3 503.5L1256.4 505.1L1256.4 506.8L1256.4 508.4L1256.5 510.1L1256.5 511.7L1256.6 513.4L1256.6 515.0L1256.6 516.6L1256.7 518.3L1256.7 519.9L1256.7 521.6L1256.8 523.2L1256.8 524.9L1256.8 526.5L1256.8 528.2L1256.9 529.8L1256.9 531.3L1256.9 532.8L1257.0 534.2L1257.0 535.7L1257.0 537.1L1257.0 538.7L1257.0 540.3L1257.1 542.0L1257.1 543.8L1257.1 545.7L1257.1 547.9L1257.1 549.2L1257.1 550.6L1257.1 552.1L1257.1 553.6L1257.1 555.2L1257.1 556.9L1257.1 558.5L1257.1 560.2L1257.0 562.0L1257.0 563.7L1257.0 565.5L1257.0 567.3L1257.0 569.0L1257.0 570.8L1257.0 572.5L1257.0 574.2L1257.0 575.9L1257.0 577.5L1257.0 579.0L1257.0 580.6L1257.0 582.0L1257.0 583.9L1257.1 585.6L1257.1 587.2L1257.1 588.7L1257.2 590.1L1257.2 591.5L1257.3 592.8L1257.3 594.2L1257.4 595.6L1257.4 597.2L1257.5 598.8L1257.6 600.5L1257.6 602.5L1257.7 604.6L1257.8 607.0L1257.8 608.2L1257.8 609.5L1257.9 610.9L1257.9 612.2L1257.9 613.6L1258.0 615.1L1258.0 616.6L1258.0 618.1L1258.1 619.7L1258.1 621.3L1258.2 622.9L1258.2 624.5L1258.2 626.2L1258.3 627.9L1258.3 629.6L1258.4 631.3L1258.4 633.0L1258.5 634.8L1258.5 636.5L1258.5 638.2L1258.6 640.0L1258.6 641.7L1258.7 643.5L1258.7 645.2L1258.8 646.9L1258.8 648.7L1258.8 650.4L1258.9 652.1L1258.9 653.7L1259.0 655.4L1259.0 657.0L1259.0 658.6L1259.1 660.2L1259.1 661.8L1259.2 663.5L1259.2 665.1L1259.2 666.7L1259.3 668.3L1259.3 669.9L1259.4 671.5L1259.4 673.1L1259.4 674.7L1259.5 676.4L1259.5 678.0L1259.6 679.6L1259.6 681.2L1259.6 682.8L1259.7 684.4L1259.7 686.0L1259.7 687.6L1259.8 689.3L1259.8 690.9L1259.9 692.5L1259.9 694.1L1260.0 695.7L1260.0 697.3L1260.0 698.9L1260.1 700.5L1260.1 702.2L1260.2 703.8L1260.2 705.4L1260.2 707.0L1260.3 708.6L1260.3 710.3L1260.4 712.0L1260.4 713.7L1260.5 715.4L1260.5 717.2L1260.6 718.9L1260.6 720.7L1260.7 722.5L1260.7 724.3L1260.8 726.1L1260.8 727.9L1260.9 729.7L1260.9 731.4L1261.0 733.2L1261.0 734.9L1261.1 736.7L1261.1 738.4L1261.2 740.0L1261.2 741.7L1261.3 743.3L1261.3 744.9L1261.4 746.4L1261.4 747.9L1261.5 749.4L1261.5 750.8L1261.6 752.2L1261.6 753.5L1261.7 754.7L1261.7 755.9L1261.8 757.0L1261.9 759.9L1262.0 762.0L1262.1 763.5L1262.2 764.6L1262.3 765.5L1262.5 766.4L1262.6 767.5L1262.7 769.0L1262.8 771.1L1263.0 774.0L1263.1 775.1L1263.1 776.3L1263.2 777.5L1263.2 778.8L1263.3 780.2L1263.3 781.6L1263.4 783.1L1263.5 784.6L1263.5 786.1L1263.6 787.7L1263.6 789.3L1263.7 791.0L1263.8 792.6L1263.8 794.3L1263.9 796.1L1264.0 797.8L1264.0 799.6L1264.1 801.3L1264.2 803.1L1264.2 804.9L1264.3 806.7L1264.4 808.5L1264.4 810.3L1264.5 812.1L1264.6 813.8L1264.6 815.6L1264.7 817.3L1264.8 819.0L1264.9 820.7L1264.9 822.4L1265.0 824.0L1265.1 825.6L1265.1 827.2L1265.2 828.8L1265.3 830.5L1265.4 832.1L1265.4 833.7L1265.5 835.3L1265.6 836.9L1265.7 838.5L1265.8 840.1L1265.8 841.7L1265.9 843.4L1266.0 845.0L1266.1 846.6L1266.1 848.2L1266.2 849.8L1266.3 851.4L1266.4 853.0L1266.5 854.6L1266.6 856.3L1266.6 857.9L1266.7 859.5L1266.8 861.1L1266.9 862.7L1267.0 864.3L1267.1 865.9L1267.1 867.5L1267.2 869.2L1267.3 870.8L1267.4 872.4L1267.5 874.0L1267.6 875.6L1267.7 877.2L1267.8 878.9L1267.9 880.5L1267.9 882.2L1268.0 883.8L1268.1 885.5L1268.2 887.2L1268.3 888.8L1268.4 890.5L1268.5 892.1L1268.6 893.8L1268.6 895.5L1268.7 897.1L1268.8 898.8L1268.9 900.5L1269.0 902.1L1269.1 903.7L1269.2 905.4L1269.3 907.0L1269.4 908.6L1269.5 910.2L1269.6 911.8L1269.7 913.4L1269.8 915.0L1269.9 916.5L1270.0 918.0L1270.1 919.6L1270.3 921.1L1270.4 922.5L1270.5 924.0L1270.7 925.8L1270.8 927.6L1271.0 929.3L1271.1 931.1L1271.3 932.8L1271.4 934.5L1271.6 936.2L1271.8 937.9L1271.9 939.5L1272.1 941.2L1272.3 942.8L1272.5 944.4L1272.6 946.0L1272.8 947.6L1273.0 949.2L1273.2 950.7L1273.4 952.3L1273.6 953.8L1273.8 955.3L1274.0 956.8L1274.2 958.3L1274.4 959.7L1274.6 961.2L1274.8 962.6L1275.0 964.0L1275.3 965.8L1275.6 967.6L1275.9 969.4L1276.2 971.2L1276.5 973.0L1276.8 974.7L1277.1 976.4L1277.4 978.1L1277.7 979.7L1278.0 981.3L1278.4 982.9L1278.7 984.4L1279.0 985.9L1279.4 987.3L1279.7 988.8L1280.1 990.2L1280.5 991.5L1280.9 992.8L1281.2 994.1L1281.9 996.1L1282.7 998.0L1283.4 999.7L1284.2 1001.4L1285.0 1003.0L1285.8 1004.4L1286.6 1005.7L1287.5 1007.0L1288.3 1008.0L1289.1 1009.0L1290.0 1010.3L1291.6 1011.9L1293.2 1013.3L1294.9 1013.9L1296.6 1014.8L1298.3 1014.9L1300.0 1015.6L1301.6 1015.7L1303.2 1015.8L1304.8 1015.5L1306.5 1015.4L1308.2 1014.7L1310.0 1013.8L1311.3 1013.2L1312.6 1012.8L1314.0 1012.3L1315.4 1011.4L1316.8 1010.7L1318.2 1009.8L1319.7 1008.6L1321.1 1007.9L1322.5 1006.7L1323.6 1005.6L1324.8 1004.7L1326.0 1003.6L1327.2 1002.5L1328.3 1001.7L1329.5 1000.7L1330.6 999.4L1331.8 998.0L1332.9 996.8L1334.0 995.4L1335.0 993.9L1335.9 992.7L1336.7 991.3L1337.5 989.9L1338.3 988.5L1339.1 987.0L1339.9 985.4L1340.6 984.0L1341.4 982.3L1342.1 980.6L1342.9 979.0L1343.6 977.4L1344.3 975.7L1345.0 974.0L1345.6 972.5L1346.2 970.9L1346.9 969.2L1347.5 967.6L1348.1 965.9L1348.7 964.1L1349.3 962.3L1349.9 960.6L1350.5 958.9L1351.1 957.2L1351.6 955.6L1352.1 954.1L1352.5 952.6L1352.9 951.3L1353.3 950.0L1353.9 947.7L1354.3 945.8L1354.6 944.3L1354.7 942.8L1354.9 941.5L1355.0 940.0L1355.3 938.4L1355.5 936.8L1355.8 935.2L1356.1 933.6L1356.4 931.9L1356.7 930.3L1357.0 928.6L1357.3 926.9L1357.6 925.2L1357.9 923.6L1358.2 921.9L1358.5 920.3L1358.8 918.6L1359.1 917.0L1359.3 915.3L1359.6 913.7L1359.9 912.1L1360.2 910.3L1360.4 908.6L1360.7 906.9L1361.0 905.3L1361.3 903.6L1361.5 901.9L1361.8 900.3L1362.2 898.6L1362.5 896.9L1362.8 895.2L1363.2 893.5L1363.5 891.8L1363.9 890.1L1364.2 888.4L1364.6 886.7L1364.9 885.0L1365.3 883.3L1365.7 881.6L1366.1 879.8L1366.5 878.2L1366.8 876.6L1367.3 874.8L1367.7 872.9L1368.2 871.1L1368.6 869.4L1369.0 867.7L1369.5 866.1L1370.0 864.1L1370.5 862.1L1371.1 860.2L1371.6 858.4L1372.1 856.8L1372.9 854.5L1373.6 852.6L1374.3 850.9L1375.6 848.8L1377.0 847.4L1379.6 846.4L1381.8 846.5L1382.8 847.4L1383.7 850.2L1384.0 851.5L1384.2 853.1L1384.5 854.7L1384.8 856.5L1385.1 858.4L1385.3 860.3L1385.5 862.1L1385.7 863.7L1385.8 865.3L1385.9 866.9L1386.0 868.6L1386.1 870.3L1386.2 871.9L1386.3 873.6L1386.4 875.3L1386.6 876.9L1386.7 878.6L1386.8 880.2L1387.0 881.8L1387.1 883.5L1387.2 885.1L1387.4 886.8L1387.5 888.4L1387.6 890.1L1387.7 891.7L1387.8 893.4L1388.0 895.0L1388.1 896.6L1388.2 898.3L1388.3 899.9L1388.4 901.6L1388.5 903.2L1388.7 904.9L1388.8 906.5L1388.9 908.2L1389.1 909.8L1389.2 911.4L1389.3 913.1L1389.5 914.7L1389.6 916.4L1389.7 918.0L1389.9 919.7L1390.0 921.3L1390.1 923.0L1390.3 924.6L1390.4 926.3L1390.5 927.9L1390.7 929.5L1390.8 930.9L1390.9 932.4L1391.0 933.8L1391.2 935.3L1391.3 937.0L1391.4 938.9L1391.4 941.1L1391.5 942.4L1391.5 943.9L1391.5 945.5L1391.5 947.1L1391.5 948.8L1391.5 950.5L1391.5 952.3L1391.4 954.1L1391.4 955.9L1391.5 957.8L1391.5 959.6L1391.5 961.4L1391.6 963.2L1391.7 965.0L1391.8 966.7L1391.9 968.3L1392.0 970.0L1392.2 971.7L1392.3 973.4L1392.5 975.2L1392.7 976.9L1392.9 978.6L1393.1 980.3L1393.2 982.0L1393.4 983.7L1393.6 985.3L1393.8 986.9L1394.0 988.5L1394.2 990.0L1394.4 991.9L1394.6 993.7L1394.8 995.5L1395.0 997.3L1395.2 999.0L1395.4 1000.7L1395.6 1002.4L1395.8 1004.0L1396.0 1005.6L1396.2 1007.1L1396.5 1008.6L1396.7 1010.0L1397.0 1012.0L1397.3 1013.9L1397.6 1015.6L1397.9 1017.3L1398.2 1018.9L1398.5 1020.4L1398.9 1021.9L1399.2 1023.3L1399.6 1025.3L1400.0 1027.0L1400.4 1028.8L1400.8 1030.4L1401.2 1032.0L1401.7 1033.4L1402.3 1035.2L1403.0 1036.7L1403.8 1038.0L1405.0 1039.3L1406.2 1040.0L1407.6 1040.6L1409.2 1040.9L1411.1 1041.2L1413.3 1041.4L1414.6 1041.3L1415.9 1041.0L1417.2 1041.0L1418.6 1041.5L1420.1 1041.3L1421.7 1041.3L1423.5 1040.9L1425.5 1040.8L1427.6 1040.8L1430.0 1040.8L1431.3 1041.0L1432.7 1040.9L1434.1 1040.7L1435.6 1040.4L1437.2 1040.1L1438.8 1040.1L1440.4 1040.0L1442.1 1039.9L1443.9 1039.9L1445.6 1039.6L1447.4 1039.5L1449.2 1039.7L1451.0 1039.5L1452.8 1039.1L1454.6 1038.9L1456.4 1038.8L1458.2 1038.7L1459.9 1038.7L1461.6 1038.5L1463.3 1038.3L1465.0 1038.2L1466.7 1038.6L1468.4 1038.1L1470.2 1038.0L1472.0 1037.6L1473.7 1037.2L1475.5 1037.2L1477.3 1037.2L1479.0 1037.4L1480.8 1037.0L1482.5 1036.8L1484.2 1036.9L1485.9 1036.4L1487.6 1036.5L1489.2 1036.1L1490.8 1036.7L1492.3 1036.5L1493.8 1036.0L1495.3 1036.3L1496.7 1035.9L1498.8 1036.0L1500.8 1035.7L1502.8 1035.4L1504.8 1035.4L1506.7 1035.4L1508.5 1035.2L1510.2 1035.5L1511.8 1034.5L1513.3 1034.6L1514.6 1034.9L1515.9 1034.8L1516.9 1034.6L1517.8 1034.4"/>
<path class="curve" stroke="#f93c3c" stroke-width="5.5" d="M343.8 997.6L344.4 998.3L345.3 999.9L346.4 1001.1L347.6 1002.4L348.8 1003.8L350.0 1005.0L351.1 1006.1L352.3 1007.5L353.5 1008.7L354.8 1010.1L356.1 1011.3L357.5 1012.2L358.8 1013.2L360.1 1014.3L361.5 1015.2L362.9 1016.6L364.4 1017.7L365.9 1018.7L367.5 1019.7L368.9 1020.1L370.2 1020.9L371.5 1021.5L372.8 1022.5L374.3 1023.8L375.9 1024.5L377.8 1025.2L380.0 1026.0L381.2 1026.7L382.5 1027.3L383.9 1028.3L385.4 1028.3L386.9 1028.3L388.5 1028.2L390.1 1029.1L391.7 1029.9L393.4 1030.1L395.1 1031.7L396.8 1033.0L398.5 1033.2L400.1 1035.2L401.8 1034.1L403.4 1035.8L405.0 1036.4L406.7 1035.7L408.3 1036.5L410.0 1037.5L411.7 1037.5L413.3 1037.8L415.0 1038.9L416.7 1039.3L418.3 1037.5L420.0 1037.4L421.7 1038.4L423.3 1039.0L425.0 1038.7L426.7 1038.8L428.3 1040.7L430.0 1040.8L431.7 1040.9L433.3 1040.8L435.0 1041.5L436.7 1041.6L438.3 1041.9L440.0 1042.3L441.7 1042.6L443.3 1042.7L445.0 1043.1L446.7 1043.0L448.3 1043.5L450.0 1043.3L451.7 1043.0L453.3 1043.6L455.0 1043.6L456.7 1043.5L458.3 1042.5L460.0 1043.3L461.7 1044.2L463.3 1045.0L465.0 1045.8L466.7 1044.0L468.3 1044.3L470.0 1048.2L471.7 1045.3L473.3 1044.6L475.0 1044.7L476.7 1044.9L478.3 1044.8L480.0 1045.5L481.7 1046.5L483.3 1044.8L485.0 1046.1L486.7 1045.5L488.3 1045.7L490.0 1045.0L491.7 1043.8L493.3 1043.3L495.0 1045.1L496.7 1044.8L498.3 1044.6L500.0 1044.4L501.7 1045.1L503.3 1045.6L505.0 1046.0L506.7 1044.2L508.3 1044.4L510.0 1044.2L511.7 1043.4L513.3 1044.6L515.0 1044.9L516.7 1045.5L518.3 1044.7L520.0 1043.7L521.7 1045.9L523.3 1046.3L525.0 1044.6L526.7 1044.5L528.3 1045.0L530.0 1044.7L531.7 1044.7L533.3 1043.9L535.0 1044.4L536.7 1043.7L538.3 1044.3L540.0 1042.8L541.7 1043.2L543.3 1045.4L545.0 1045.1L546.7 1044.8L548.3 1044.7L550.0 1046.5L551.7 1045.7L553.3 1043.3L555.0 1043.7L556.7 1043.3L558.3 1044.1L560.0 1042.8L561.7 1043.4L563.3 1043.8L565.0 1042.6L566.7 1043.3L568.3 1043.3L570.0 1043.4L571.7 1042.8L573.3 1042.9L575.0 1042.9L576.7 1042.8L578.3 1043.4L580.0 1042.8L581.7 1043.5L583.3 1041.8L585.0 1043.3L586.7 1042.9L588.3 1044.3L590.0 1042.4L591.7 1042.4L593.3 1042.6L595.0 1043.5L596.7 1041.6L598.3 1043.6L600.0 1042.7L601.7 1042.8L603.3 1042.2L605.0 1042.0L606.7 1041.7L608.3 1041.1L610.0 1041.1L611.7 1045.3L613.3 1042.0L615.0 1042.8L616.7 1042.3L618.3 1041.7L620.0 1041.7L621.7 1040.8L623.3 1040.9L625.0 1041.4L626.7 1042.4L628.3 1041.2L630.0 1041.6L631.7 1041.9L633.3 1040.4L635.0 1042.2L636.7 1043.2L638.3 1043.3L640.0 1041.7L641.7 1041.4L643.3 1041.4L645.0 1042.4L646.7 1042.0L648.3 1042.2L650.0 1043.2L651.7 1042.6L653.3 1043.1L655.0 1042.6L656.7 1040.8L658.3 1040.9L660.0 1042.1L661.7 1042.5L663.3 1042.4L665.0 1042.6L666.7 1042.5L668.3 1042.8L670.0 1042.1L671.7 1042.9L673.3 1042.0L675.0 1042.7L676.7 1041.8L678.3 1042.0L680.0 1041.9L681.7 1041.1L683.3 1042.1L685.0 1041.5L686.7 1041.8L688.3 1042.1L690.0 1042.7L691.7 1042.2L693.3 1040.7L695.0 1039.8L696.7 1040.6L698.3 1042.7L700.0 1041.9L701.7 1041.3L703.3 1042.3L705.0 1042.8L706.7 1041.8L708.4 1041.0L710.2 1040.8L712.1 1040.2L713.9 1040.7L715.7 1040.9L717.5 1042.2L719.3 1042.3L721.1 1042.2L722.8 1041.4L724.4 1042.5L726.0 1041.5L727.4 1040.8L728.8 1040.6L730.0 1041.5L732.1 1041.0L733.0 1042.2L733.4 1043.5L734.3 1044.4L736.2 1044.0L740.0 1044.6L741.0 1045.5L742.1 1046.3L743.3 1046.1L744.5 1044.8L745.8 1044.9L747.2 1044.4L748.6 1044.8L750.1 1044.7L751.6 1045.3L753.2 1045.5L754.8 1045.3L756.4 1044.2L758.1 1045.6L759.9 1045.9L761.6 1045.3L763.4 1045.4L765.2 1044.7L767.0 1044.6L768.8 1045.7L770.6 1045.6L772.5 1045.4L774.3 1044.8L776.1 1043.8L777.9 1043.9L779.7 1043.7L781.5 1044.8L783.3 1043.0L785.0 1043.8L786.7 1044.6L788.4 1044.0L790.0 1044.5L791.6 1045.2L793.3 1044.5L794.9 1044.1L796.6 1044.2L798.3 1044.5L800.1 1044.1L801.8 1043.4L803.5 1044.8L805.3 1042.6L807.0 1041.4L808.8 1043.5L810.5 1043.7L812.2 1043.9L814.0 1044.7L815.7 1045.1L817.4 1044.9L819.1 1043.7L820.8 1043.5L822.5 1044.2L824.1 1044.1L825.7 1044.0L827.3 1043.1L828.9 1044.4L830.4 1042.1L831.9 1041.6L833.4 1042.2L834.8 1042.0L836.1 1042.1L837.5 1042.7L838.8 1041.7L840.0 1041.7L842.4 1042.5L844.6 1042.3L846.7 1042.7L848.6 1041.0L850.4 1040.1L852.0 1040.1L853.6 1041.2L855.1 1041.8L856.6 1041.7L858.0 1040.6L859.3 1040.6L860.7 1040.3L862.1 1039.7L863.5 1039.2L865.0 1039.0L866.7 1038.4L868.4 1039.9L870.1 1039.3L871.7 1037.6L873.3 1037.7L874.9 1036.7L876.4 1036.0L877.9 1035.4L879.4 1034.3L880.8 1034.1L882.2 1034.2L883.6 1033.4L885.0 1033.3L886.7 1032.4L888.4 1032.3L889.9 1030.6L891.5 1030.6L893.0 1030.7L894.4 1030.2L895.8 1029.4L897.2 1028.5L898.6 1028.0L900.0 1026.6L901.5 1025.0L903.1 1023.2L904.6 1022.6L906.1 1022.3L907.5 1021.8L908.9 1019.7L910.2 1019.8L911.4 1019.5L912.5 1018.5L914.5 1017.4L916.0 1016.7L917.3 1015.8L918.8 1016.3L920.3 1017.1L921.8 1017.1L923.3 1018.4L925.0 1020.2L926.2 1020.6L927.4 1022.2L928.7 1023.4L930.0 1024.6L931.2 1026.0L932.5 1027.1L933.9 1028.4L935.3 1030.0L936.6 1030.6L938.2 1031.2L940.0 1032.2L941.5 1032.2L943.2 1032.8L945.0 1033.3L946.9 1033.4L948.8 1033.1L950.7 1033.2L952.5 1033.5L954.3 1033.5L956.1 1033.4L957.9 1034.0L959.6 1033.4L961.4 1033.5L963.2 1033.2L965.0 1033.0L966.6 1032.5L968.1 1032.3L969.7 1032.2L971.2 1032.2L972.8 1031.3L974.4 1030.7L975.9 1030.3L977.5 1030.1L979.1 1030.0L980.6 1029.1L982.2 1028.2L983.8 1027.0L985.3 1026.4L986.9 1026.0L988.4 1025.7L990.0 1024.9L991.6 1024.5L993.1 1024.0L994.7 1023.4L996.2 1022.6L997.8 1022.2L999.4 1020.9L1000.9 1020.5L1002.5 1020.0L1004.1 1019.0L1005.6 1019.0L1007.2 1018.8L1008.8 1018.1L1010.3 1017.4L1011.9 1017.1L1013.4 1016.7L1015.0 1016.3L1016.8 1015.3L1018.6 1015.2L1020.4 1014.9L1022.1 1014.4L1023.9 1014.2L1025.7 1013.6L1027.5 1013.3L1029.3 1013.6L1031.1 1013.7L1032.9 1014.4L1034.6 1014.3L1036.4 1014.9L1038.2 1015.3L1040.0 1015.6L1041.8 1015.1L1043.6 1015.1L1045.4 1014.7L1047.1 1014.8L1048.9 1014.8L1050.7 1014.6L1052.5 1014.2L1054.1 1014.2L1055.6 1014.0L1057.2 1014.0L1058.8 1013.1L1060.3 1012.8L1061.9 1012.3L1063.4 1011.8L1065.0 1011.1L1066.6 1010.7L1068.1 1009.9L1069.7 1009.2L1071.2 1008.5L1072.8 1007.7L1074.4 1006.8L1075.9 1005.7L1077.5 1005.0L1078.8 1004.1L1080.0 1003.3L1081.2 1002.3L1082.5 1001.3L1083.8 1000.4L1085.0 999.4L1086.2 998.3L1087.5 997.1L1088.8 996.4L1090.0 995.1L1091.3 994.1L1092.5 993.2L1093.7 992.1L1095.0 990.7L1096.2 989.3L1097.5 988.3L1098.8 987.0L1100.0 986.0L1101.2 984.8L1102.5 983.6L1103.8 982.5L1105.0 981.5L1106.2 980.3L1107.5 979.5L1108.8 978.4L1110.0 977.2L1111.2 975.9L1112.5 974.9L1113.8 973.8L1115.0 972.5L1116.1 971.5L1117.3 970.7L1118.5 969.5L1119.7 968.1L1120.8 966.9L1122.0 965.4L1123.1 964.7L1124.3 963.9L1125.4 962.3L1126.5 961.3L1127.5 959.8L1128.4 958.7L1129.3 957.4L1130.2 955.7L1131.1 954.4L1132.0 952.9L1132.8 951.4L1133.6 949.9L1134.4 948.5L1135.2 947.0L1136.0 945.4L1136.8 943.8L1137.5 942.5L1138.3 940.9L1139.0 939.3L1139.8 937.7L1140.5 936.2L1141.1 934.7L1141.8 933.2L1142.5 931.6L1143.1 929.9L1143.7 928.3L1144.4 926.7L1145.0 925.0L1145.5 923.5L1146.0 922.1L1146.6 920.5L1147.1 919.1L1147.6 917.6L1148.0 916.1L1148.5 914.5L1149.0 913.0L1149.5 911.4L1149.9 909.8L1150.4 908.2L1150.8 906.6L1151.2 905.0L1151.7 903.5L1152.1 901.8L1152.5 900.2L1152.9 898.5L1153.3 896.7L1153.7 895.0L1154.0 893.3L1154.4 891.6L1154.8 889.9L1155.1 888.3L1155.4 886.7L1155.7 885.2L1156.0 883.8L1156.2 882.5L1156.6 880.3L1156.9 878.5L1157.1 876.9L1157.3 875.5L1157.4 874.0L1157.6 872.2L1157.9 870.0L1158.1 868.6L1158.3 867.3L1158.5 865.9L1158.7 864.5L1159.0 863.0L1159.2 861.4L1159.5 859.8L1159.7 858.1L1160.0 856.3L1160.3 854.4L1160.6 852.3L1160.9 850.2L1161.2 847.9L1161.4 846.6L1161.5 845.2L1161.7 843.8L1161.9 842.3L1162.1 840.8L1162.3 839.3L1162.6 837.7L1162.8 836.0L1163.0 834.4L1163.2 832.7L1163.4 831.0L1163.7 829.2L1163.9 827.5L1164.1 825.8L1164.3 824.0L1164.6 822.2L1164.8 820.5L1165.0 818.7L1165.2 817.0L1165.4 815.2L1165.6 813.5L1165.8 811.8L1166.0 810.1L1166.2 808.4L1166.4 806.8L1166.5 805.1L1166.7 803.5L1166.9 801.8L1167.0 800.2L1167.2 798.5L1167.3 796.9L1167.4 795.3L1167.6 793.6L1167.7 792.0L1167.9 790.3L1168.0 788.7L1168.1 787.0L1168.3 785.4L1168.4 783.7L1168.5 782.1L1168.7 780.5L1168.8 778.8L1169.0 777.2L1169.1 775.5L1169.3 773.9L1169.4 772.2L1169.6 770.6L1169.7 768.9L1169.9 767.3L1170.1 765.7L1170.2 764.0L1170.4 762.4L1170.6 760.7L1170.8 759.1L1171.0 757.4L1171.1 755.8L1171.3 754.2L1171.5 752.5L1171.7 750.9L1171.9 749.2L1172.1 747.6L1172.3 745.9L1172.4 744.3L1172.6 742.6L1172.8 741.0L1173.0 739.3L1173.2 737.7L1173.4 736.0L1173.5 734.4L1173.7 732.8L1173.9 731.1L1174.1 729.5L1174.3 727.8L1174.4 726.1L1174.6 724.3L1174.8 722.5L1175.0 720.7L1175.2 718.9L1175.4 717.0L1175.5 715.1L1175.7 713.3L1175.9 711.4L1176.1 709.6L1176.3 707.8L1176.5 706.0L1176.6 704.2L1176.8 702.5L1177.0 700.8L1177.1 699.2L1177.3 697.7L1177.4 696.2L1177.6 694.8L1177.7 693.4L1177.8 692.2L1177.9 691.0L1178.0 690.0L1178.3 686.7L1178.4 685.6L1178.4 685.3L1178.5 684.5L1178.8 682.0L1178.9 680.9L1179.0 679.6L1179.1 678.3L1179.3 676.9L1179.5 675.3L1179.7 673.7L1179.8 672.0L1180.0 670.3L1180.2 668.5L1180.4 666.7L1180.6 664.9L1180.8 663.0L1181.0 661.1L1181.2 659.3L1181.4 657.4L1181.6 655.6L1181.8 653.8L1182.0 652.0L1182.2 650.4L1182.3 648.9L1182.5 647.3L1182.6 645.7L1182.8 644.2L1182.9 642.6L1183.0 641.0L1183.2 639.4L1183.3 637.8L1183.5 636.2L1183.6 634.6L1183.8 633.0L1183.9 631.3L1184.1 629.7L1184.2 628.0L1184.4 626.4L1184.5 624.7L1184.7 623.0L1184.8 621.2L1185.0 619.5L1185.2 618.0L1185.3 616.4L1185.5 614.7L1185.6 613.1L1185.8 611.4L1186.0 609.7L1186.2 607.9L1186.4 606.2L1186.6 604.4L1186.8 602.7L1186.9 600.9L1187.1 599.2L1187.3 597.4L1187.5 595.7L1187.7 594.0L1187.8 592.4L1188.0 590.7L1188.1 589.1L1188.3 587.6L1188.4 586.1L1188.5 584.7L1188.7 583.3L1188.8 582.0L1188.9 579.8L1189.0 577.8L1189.1 575.9L1189.1 574.1L1189.1 572.4L1189.1 570.8L1189.1 569.3L1189.1 567.8L1189.1 566.4L1189.1 565.0L1189.1 563.7L1189.2 562.4L1189.2 561.1L1189.3 559.0L1189.5 557.2L1189.6 555.5L1189.8 554.0L1190.0 552.5L1190.2 551.0L1190.3 549.5L1190.5 547.9L1190.7 546.2L1190.9 544.6L1191.1 543.0L1191.3 541.3L1191.5 539.7L1191.7 538.0L1191.9 536.4L1192.1 534.7L1192.3 533.1L1192.6 531.4L1192.8 529.8L1193.1 528.2L1193.3 526.5L1193.6 524.9L1193.8 523.2L1194.1 521.6L1194.3 519.9L1194.6 518.3L1194.8 516.6L1195.0 515.0L1195.3 513.4L1195.5 511.7L1195.8 510.1L1196.1 508.4L1196.3 506.8L1196.6 505.1L1196.9 503.5L1197.2 501.8L1197.5 500.2L1197.8 498.6L1198.1 496.9L1198.4 495.3L1198.7 493.6L1199.0 492.0L1199.3 490.3L1199.5 488.7L1199.8 487.1L1200.1 485.4L1200.4 483.8L1200.7 482.1L1201.0 480.5L1201.3 478.8L1201.6 477.2L1201.9 475.5L1202.3 473.9L1202.6 472.2L1203.0 470.6L1203.3 468.9L1203.6 467.3L1203.9 465.6L1204.3 463.9L1204.6 462.2L1204.9 460.5L1205.3 458.9L1205.6 457.3L1205.9 455.8L1206.4 453.9L1206.8 452.0L1207.2 450.3L1207.6 448.6L1208.1 447.0L1208.6 445.3L1209.1 443.6L1209.6 442.0L1210.2 440.6L1210.8 439.1L1211.3 437.5L1211.8 436.1L1212.4 434.3L1212.9 432.7L1213.4 431.2L1213.9 429.7L1214.5 428.2L1215.2 426.4L1216.0 424.8L1216.9 422.9L1217.8 421.7L1218.7 420.3L1219.6 418.9L1220.6 417.6L1221.7 416.5L1223.1 415.3L1224.6 414.3L1226.2 413.7L1227.6 412.6L1229.3 413.6L1230.8 414.8L1232.2 416.3L1233.2 417.5L1234.1 418.7L1235.0 420.1L1236.0 421.3L1236.8 422.9L1237.7 424.2L1238.5 425.8L1239.3 427.3L1240.1 429.1L1240.8 430.7L1241.4 432.2L1242.0 433.6L1242.5 435.1L1243.1 436.7L1243.6 438.2L1244.1 439.9L1244.5 441.6L1244.9 443.1L1245.3 444.9L1245.6 446.5L1246.0 448.3L1246.4 450.1L1246.7 451.8L1247.0 453.4L1247.3 455.0L1247.6 456.6L1247.9 458.2L1248.2 459.9L1248.4 461.6L1248.7 463.3L1248.9 465.0L1249.2 466.5L1249.4 468.1L1249.6 469.7L1249.7 471.3L1249.9 472.9L1250.1 474.5L1250.3 476.1L1250.5 477.8L1250.7 479.5L1250.9 481.2L1251.0 482.9L1251.2 484.7L1251.4 486.5L1251.6 488.4L1251.8 490.1L1252.0 491.9L1252.2 493.6L1252.4 495.3L1252.5 497.0L1252.7 498.7L1252.9 500.4L1253.0 502.0L1253.2 503.6L1253.3 505.2L1253.4 506.8L1253.6 508.4L1253.7 510.1L1253.8 511.7L1253.9 513.4L1254.0 515.0L1254.1 516.6L1254.2 518.3L1254.3 519.9L1254.3 521.6L1254.4 523.2L1254.5 524.9L1254.6 526.5L1254.6 528.2L1254.7 529.8L1254.8 531.4L1254.8 533.1L1254.9 534.7L1254.9 536.4L1255.0 538.0L1255.0 539.7L1255.0 541.3L1255.0 543.0L1255.1 544.6L1255.1 546.2L1255.1 547.9L1255.2 549.5L1255.2 551.0L1255.2 552.5L1255.3 554.0L1255.3 555.5L1255.3 557.2L1255.4 559.0L1255.4 561.1L1255.4 562.4L1255.4 563.7L1255.5 565.0L1255.5 566.4L1255.5 567.8L1255.5 569.3L1255.5 570.8L1255.5 572.4L1255.6 574.1L1255.6 575.9L1255.6 577.8L1255.7 579.8L1255.8 582.0L1255.8 583.3L1255.8 584.7L1255.9 586.1L1255.9 587.5L1256.0 589.1L1256.0 590.6L1256.1 592.2L1256.1 593.8L1256.2 595.5L1256.2 597.2L1256.3 598.9L1256.4 600.6L1256.4 602.3L1256.5 604.1L1256.5 605.8L1256.6 607.6L1256.7 609.3L1256.7 611.0L1256.8 612.8L1256.8 614.5L1256.9 616.2L1256.9 617.9L1257.0 619.5L1257.0 621.1L1257.1 622.8L1257.1 624.4L1257.2 626.0L1257.2 627.7L1257.3 629.3L1257.3 630.9L1257.4 632.5L1257.4 634.2L1257.5 635.8L1257.5 637.4L1257.5 639.1L1257.6 640.7L1257.6 642.3L1257.7 644.0L1257.7 645.6L1257.7 647.2L1257.8 648.8L1257.8 650.5L1257.9 652.1L1257.9 653.7L1258.0 655.4L1258.0 657.0L1258.0 658.6L1258.1 660.3L1258.1 661.9L1258.2 663.5L1258.2 665.2L1258.3 666.8L1258.3 668.4L1258.3 670.0L1258.4 671.7L1258.4 673.3L1258.5 674.9L1258.5 676.6L1258.6 678.2L1258.6 679.8L1258.7 681.5L1258.7 683.1L1258.7 684.7L1258.8 686.3L1258.8 688.0L1258.9 689.6L1258.9 691.2L1259.0 692.9L1259.0 694.5L1259.0 696.1L1259.1 697.7L1259.1 699.4L1259.2 701.0L1259.2 702.6L1259.3 704.2L1259.3 705.8L1259.4 707.4L1259.4 709.0L1259.5 710.6L1259.5 712.2L1259.6 713.8L1259.6 715.4L1259.7 717.0L1259.7 718.6L1259.8 720.3L1259.8 721.9L1259.8 723.5L1259.9 725.2L1259.9 726.9L1259.9 728.6L1260.0 730.3L1260.0 732.0L1260.0 733.5L1260.0 735.1L1260.0 736.7L1260.0 738.3L1260.1 739.9L1260.1 741.5L1260.1 743.1L1260.0 744.7L1260.0 746.4L1260.0 748.0L1260.0 749.7L1260.0 751.3L1260.0 753.0L1260.0 754.7L1260.0 756.3L1260.0 758.0L1260.0 759.6L1260.0 761.3L1260.0 762.9L1260.0 764.5L1260.0 766.1L1260.0 767.7L1260.0 769.3L1260.0 770.9L1260.0 772.5L1260.0 774.0L1260.0 775.7L1260.0 777.4L1260.1 779.0L1260.1 780.6L1260.1 782.2L1260.1 783.8L1260.2 785.3L1260.2 786.9L1260.2 788.4L1260.2 789.9L1260.3 791.5L1260.3 793.0L1260.3 794.6L1260.4 796.1L1260.4 797.7L1260.5 799.3L1260.5 800.9L1260.5 802.6L1260.6 804.3L1260.6 806.0L1260.7 807.8L1260.7 809.6L1260.8 811.5L1260.8 812.9L1260.8 814.4L1260.8 815.8L1260.9 817.3L1260.9 818.9L1261.0 820.4L1261.0 821.9L1261.0 823.5L1261.1 825.1L1261.1 826.7L1261.1 828.3L1261.2 829.9L1261.2 831.6L1261.3 833.2L1261.3 834.9L1261.3 836.6L1261.4 838.2L1261.4 839.9L1261.5 841.6L1261.5 843.2L1261.5 844.9L1261.6 846.6L1261.6 848.3L1261.7 850.0L1261.7 851.6L1261.8 853.3L1261.8 855.0L1261.9 856.6L1261.9 858.3L1262.0 859.9L1262.0 861.5L1262.0 863.1L1262.1 864.7L1262.1 866.4L1262.2 868.0L1262.2 869.6L1262.3 871.3L1262.3 872.9L1262.4 874.6L1262.4 876.2L1262.5 877.9L1262.6 879.5L1262.6 881.2L1262.7 882.9L1262.7 884.5L1262.8 886.1L1262.8 887.8L1262.9 889.4L1262.9 891.1L1263.0 892.7L1263.1 894.3L1263.1 895.9L1263.2 897.5L1263.2 899.1L1263.3 900.7L1263.4 902.3L1263.4 903.9L1263.5 905.4L1263.5 907.0L1263.6 908.5L1263.7 910.0L1263.8 911.5L1263.8 913.3L1263.9 915.0L1264.0 916.8L1264.1 918.6L1264.2 920.3L1264.3 922.0L1264.3 923.7L1264.4 925.5L1264.5 927.2L1264.6 928.8L1264.7 930.5L1264.8 932.2L1264.9 933.8L1265.0 935.5L1265.1 937.1L1265.2 938.7L1265.3 940.3L1265.4 941.9L1265.5 943.5L1265.6 945.0L1265.7 946.6L1265.8 948.1L1265.9 949.6L1266.0 951.1L1266.1 952.6L1266.2 954.0L1266.4 955.9L1266.6 957.7L1266.7 959.5L1266.9 961.3L1267.1 963.1L1267.2 964.9L1267.4 966.6L1267.6 968.3L1267.8 970.0L1268.0 971.7L1268.2 973.3L1268.4 974.9L1268.5 976.4L1268.7 978.0L1268.9 979.5L1269.2 981.0L1269.4 982.4L1269.6 983.8L1269.8 985.2L1270.0 986.5L1270.4 988.7L1270.7 990.7L1271.1 992.7L1271.5 994.6L1271.9 996.3L1272.3 998.0L1272.8 999.7L1273.2 1001.2L1273.6 1002.7L1274.1 1004.0L1274.5 1005.2L1275.0 1006.4L1276.0 1008.6L1277.0 1010.6L1278.0 1012.0L1279.1 1012.9L1280.2 1013.6L1281.2 1014.3L1283.2 1015.2L1285.1 1015.3L1287.5 1013.7L1288.6 1013.1L1289.7 1012.6L1291.0 1011.3L1292.3 1009.9L1293.6 1008.5L1294.9 1007.0L1296.2 1005.5L1297.5 1003.6L1298.5 1002.7L1299.5 1001.4L1300.5 1000.1L1301.5 998.5L1302.5 997.1L1303.5 995.5L1304.5 994.0L1305.5 992.7L1306.5 991.3L1307.5 990.2L1308.9 988.9L1310.4 987.7L1311.8 986.3L1313.2 985.6L1314.6 984.6L1316.1 984.0L1317.5 983.8L1319.2 983.9L1320.8 984.5L1322.5 985.3L1324.2 986.6L1325.8 987.9L1327.5 989.0L1328.6 989.9L1329.7 991.2L1330.8 992.4L1331.9 993.8L1333.1 995.0L1334.2 996.3L1335.3 997.6L1336.4 999.1L1337.5 1000.3L1338.8 1001.4L1340.1 1002.5L1341.4 1003.9L1342.7 1004.9L1344.0 1006.1L1345.2 1007.2L1346.4 1008.0L1347.5 1009.0L1349.4 1010.4L1351.1 1011.4L1352.6 1012.5L1354.2 1012.7L1355.7 1012.4L1357.2 1011.7L1358.6 1010.6L1360.0 1009.1L1360.8 1008.1L1361.5 1006.7L1362.2 1005.3L1362.8 1003.7L1363.5 1002.1L1364.2 1000.1L1365.0 998.4L1365.5 997.0L1366.1 995.6L1366.7 994.1L1367.3 992.4L1367.9 990.7L1368.5 989.1L1369.1 987.5L1369.7 986.0L1370.2 984.6L1370.8 983.3L1371.8 981.6L1372.9 979.9L1373.9 978.2L1374.9 977.0L1375.8 975.9L1376.7 975.1L1378.5 973.7L1380.0 973.3L1381.6 973.7L1383.3 976.0L1383.9 976.9L1384.5 978.2L1385.1 979.8L1385.7 981.5L1386.3 983.1L1386.9 984.9L1387.5 986.6L1388.0 988.2L1388.4 989.7L1388.8 991.4L1389.3 993.1L1389.7 994.8L1390.1 996.5L1390.5 998.3L1390.8 1000.0L1391.1 1001.6L1391.4 1003.2L1391.7 1004.9L1392.0 1006.5L1392.3 1008.2L1392.5 1009.9L1392.8 1011.6L1393.1 1013.3L1393.3 1015.0L1393.6 1016.7L1393.9 1018.4L1394.2 1020.1L1394.4 1021.8L1394.7 1023.6L1395.0 1025.3L1395.3 1026.9L1395.6 1028.5L1395.8 1030.0L1396.2 1031.9L1396.5 1033.8L1396.9 1035.6L1397.3 1037.3L1397.6 1038.9L1398.0 1040.4L1398.3 1041.7L1399.1 1044.0L1399.9 1045.7L1400.8 1046.7L1402.1 1047.5L1404.2 1047.6L1405.5 1047.9L1407.1 1047.6L1408.8 1047.1L1410.9 1046.3L1413.3 1046.7L1414.6 1046.4L1415.9 1046.6L1417.3 1046.4L1418.7 1046.3L1420.2 1045.9L1421.8 1046.4L1423.5 1046.7L1425.5 1046.5L1427.6 1046.1L1430.0 1045.9L1431.3 1045.9L1432.7 1045.8L1434.1 1045.8L1435.6 1045.6L1437.2 1045.2L1438.8 1045.2L1440.4 1045.4L1442.1 1045.1L1443.9 1044.9L1445.6 1044.8L1447.4 1044.3L1449.2 1044.2L1451.0 1044.4L1452.8 1044.4L1454.6 1044.2L1456.4 1044.3L1458.2 1043.9L1459.9 1043.6L1461.6 1043.4L1463.3 1043.4L1465.0 1043.5L1466.7 1043.1L1468.4 1043.3L1470.2 1042.7L1472.0 1042.4L1473.7 1042.5L1475.5 1042.5L1477.3 1042.7L1479.0 1042.2L1480.8 1041.3L1482.5 1041.9L1484.2 1042.1L1485.9 1041.9L1487.6 1041.7L1489.2 1041.6L1490.8 1041.4L1492.3 1041.4L1493.8 1041.3L1495.3 1041.1L1496.7 1040.8L1498.8 1040.6L1500.8 1039.9L1502.8 1040.2L1504.8 1040.2L1506.7 1040.0L1508.5 1040.0L1510.2 1039.6L1511.8 1039.3L1513.3 1039.4L1514.6 1039.7L1515.9 1039.6L1516.9 1039.6L1517.8 1039.4"/>
<path class="curve" stroke="#00c5cd" stroke-width="5.5" d="M344.2 986.1L344.7 987.2L345.4 988.9L346.1 990.6L347.0 992.4L347.8 994.2L348.8 996.2L349.6 997.7L350.6 999.0L351.5 1000.4L352.6 1001.3L353.7 1003.2L355.0 1005.2L356.0 1006.0L357.1 1007.1L358.3 1008.2L359.5 1008.8L360.7 1010.5L362.1 1011.5L363.5 1012.5L365.0 1013.6L366.3 1014.8L367.5 1015.8L368.8 1016.7L370.2 1017.8L371.6 1018.4L373.0 1019.1L374.6 1020.1L376.3 1020.8L378.1 1021.1L380.0 1022.5L381.3 1023.4L382.6 1023.9L384.1 1024.7L385.5 1024.7L387.1 1025.6L388.6 1026.2L390.2 1027.0L391.9 1027.7L393.5 1028.1L395.2 1028.4L396.9 1029.2L398.5 1029.9L400.2 1030.4L401.8 1031.4L403.4 1032.0L405.0 1032.1L406.6 1033.0L408.1 1034.3L409.7 1033.7L411.2 1033.8L412.8 1035.2L414.4 1035.9L415.9 1036.9L417.5 1036.4L419.1 1036.4L420.6 1036.5L422.2 1037.8L423.8 1038.3L425.3 1038.2L426.9 1038.4L428.4 1038.8L430.0 1039.5L431.7 1040.8L433.3 1041.4L435.0 1042.4L436.7 1042.2L438.3 1041.6L440.0 1043.1L441.7 1043.0L443.3 1043.1L445.0 1043.0L446.7 1043.5L448.3 1043.0L450.0 1043.2L451.7 1044.6L453.3 1045.5L455.0 1045.2L456.7 1046.3L458.3 1046.1L460.0 1046.5L461.7 1046.9L463.3 1046.6L465.0 1047.1L466.7 1047.5L468.3 1047.9L470.0 1048.3L471.7 1048.0L473.3 1048.5L475.0 1049.1L476.7 1049.2L478.3 1049.9L480.0 1050.6L481.7 1050.6L483.3 1050.7L485.0 1050.6L486.7 1051.5L488.3 1051.6L490.0 1051.1L491.7 1050.9L493.3 1052.1L495.0 1052.6L496.7 1053.0L498.3 1052.8L500.0 1053.1L501.7 1053.3L503.3 1053.1L505.0 1054.2L506.7 1055.0L508.3 1054.7L510.0 1055.7L511.7 1055.4L513.3 1056.2L515.0 1056.5L516.7 1056.6L518.3 1056.6L520.0 1056.9L521.7 1057.3L523.3 1057.6L525.0 1057.9L526.7 1057.6L528.3 1057.7L530.0 1058.4L531.7 1058.1L533.3 1058.8L535.0 1057.5L536.7 1058.3L538.3 1059.5L540.0 1058.7L541.7 1059.7L543.3 1059.8L545.0 1061.1L546.7 1061.8L548.3 1061.1L550.0 1060.5L551.7 1061.4L553.3 1062.4L555.0 1061.6L556.7 1062.4L558.3 1062.7L560.0 1063.1L561.7 1062.6L563.3 1062.7L565.0 1063.8L566.7 1064.4L568.3 1064.8L570.0 1064.5L571.7 1064.4L573.3 1065.0L575.0 1064.7L576.7 1065.0L578.3 1065.6L580.0 1064.9L581.7 1065.2L583.3 1065.9L585.0 1066.1L586.7 1066.9L588.3 1067.9L590.0 1067.8L591.7 1068.2L593.3 1067.7L595.0 1068.1L596.7 1067.8L598.3 1067.9L600.0 1067.8L601.7 1069.0L603.3 1068.6L605.0 1068.9L606.7 1069.3L608.3 1069.8L610.0 1069.6L611.7 1069.5L613.3 1069.3L615.0 1070.3L616.7 1070.2L618.3 1069.8L620.0 1070.1L621.7 1070.2L623.3 1071.2L625.0 1070.6L626.7 1070.4L628.3 1070.4L630.0 1070.9L631.7 1070.2L633.3 1071.0L635.0 1071.0L636.7 1072.0L638.3 1071.2L640.0 1071.6L641.7 1071.5L643.3 1072.4L645.0 1072.2L646.7 1072.8L648.3 1072.6L650.0 1072.0L651.7 1072.3L653.3 1073.1L655.0 1073.3L656.7 1072.7L658.3 1073.2L660.0 1073.5L661.7 1073.7L663.3 1073.7L665.0 1073.6L666.7 1073.7L668.3 1073.6L670.0 1074.3L671.7 1073.9L673.3 1073.9L675.0 1074.6L676.7 1075.0L678.3 1074.8L680.0 1075.0L681.7 1075.2L683.3 1075.8L685.0 1075.7L686.7 1076.8L688.3 1075.8L690.0 1075.6L691.7 1075.8L693.3 1076.1L695.0 1075.4L696.7 1075.7L698.3 1075.3L700.0 1076.3L701.7 1076.2L703.3 1076.8L705.0 1077.1L706.7 1077.2L708.4 1077.7L710.1 1077.7L711.8 1076.4L713.5 1077.2L715.2 1077.4L717.0 1076.7L718.7 1076.9L720.4 1077.7L722.0 1077.3L723.7 1078.1L725.3 1077.3L726.9 1077.8L728.5 1077.5L730.0 1076.9L731.9 1077.9L733.7 1077.8L735.5 1078.0L737.2 1078.0L738.9 1076.4L740.6 1078.6L742.3 1078.3L743.9 1078.9L745.5 1078.7L747.0 1079.2L748.5 1078.4L750.0 1079.3L751.8 1079.2L753.5 1079.3L755.0 1078.9L756.5 1079.5L757.9 1080.4L759.4 1080.7L761.1 1080.7L762.9 1080.3L765.0 1080.0L766.4 1080.0L767.8 1079.9L769.4 1080.3L770.9 1079.5L772.6 1079.6L774.3 1079.3L776.0 1079.5L777.8 1079.8L779.5 1080.7L781.3 1080.1L783.1 1080.8L784.8 1080.2L786.6 1079.9L788.3 1079.7L790.0 1078.9L791.7 1079.4L793.3 1079.3L795.0 1079.6L796.7 1079.8L798.3 1079.9L800.0 1080.3L801.7 1080.5L803.3 1080.4L805.0 1079.9L806.7 1080.4L808.3 1080.0L810.0 1079.7L811.7 1080.2L813.3 1080.2L815.0 1079.6L816.7 1079.3L818.3 1080.1L820.0 1080.1L821.7 1079.7L823.3 1078.5L825.0 1078.9L826.7 1079.7L828.3 1079.4L830.0 1079.9L831.7 1080.2L833.3 1079.4L835.0 1078.9L836.7 1079.0L838.3 1078.9L840.0 1079.0L841.7 1078.7L843.3 1078.7L845.0 1079.2L846.7 1078.7L848.3 1078.3L850.0 1078.2L851.7 1078.9L853.3 1078.6L855.0 1078.1L856.7 1076.9L858.3 1077.4L860.0 1077.4L861.7 1076.6L863.3 1077.0L865.0 1076.6L866.7 1077.0L868.3 1076.9L870.0 1076.6L871.7 1076.1L873.3 1075.9L875.0 1075.8L876.7 1076.1L878.3 1076.1L880.0 1075.9L881.7 1075.5L883.3 1075.0L885.0 1074.3L886.7 1074.1L888.3 1073.8L890.0 1073.7L891.5 1073.0L893.0 1072.4L894.5 1071.4L896.1 1071.1L897.7 1069.9L899.2 1069.4L900.8 1067.8L902.4 1066.8L903.9 1066.1L905.4 1066.0L906.9 1065.7L908.4 1064.7L909.8 1064.0L911.2 1063.7L912.5 1063.3L913.8 1062.3L915.0 1061.7L916.9 1060.9L918.6 1060.0L920.2 1059.0L921.7 1057.6L923.1 1058.3L924.5 1058.2L925.8 1056.7L927.2 1056.4L928.5 1055.9L930.0 1055.4L931.7 1055.2L933.3 1053.7L935.0 1054.2L936.7 1053.3L938.3 1053.1L940.0 1053.1L941.7 1052.7L943.3 1051.8L945.0 1052.0L946.7 1051.0L948.3 1051.5L950.0 1051.6L951.7 1051.8L953.3 1052.8L955.0 1052.8L956.7 1053.3L958.3 1053.7L960.0 1054.4L961.5 1055.1L963.0 1055.1L964.5 1055.4L966.0 1056.0L967.5 1057.6L969.0 1058.1L970.5 1058.7L972.0 1059.8L973.5 1061.1L975.0 1062.3L976.6 1062.2L978.1 1063.0L979.6 1063.1L981.1 1063.7L982.6 1064.2L984.3 1064.8L986.0 1065.0L987.9 1065.4L990.0 1066.3L991.4 1066.5L992.8 1066.2L994.4 1067.0L995.9 1067.1L997.6 1066.7L999.3 1066.9L1001.0 1067.4L1002.8 1067.7L1004.5 1068.8L1006.3 1068.8L1008.1 1069.3L1009.8 1069.3L1011.6 1068.9L1013.3 1069.0L1015.0 1069.0L1016.7 1069.1L1018.4 1069.5L1020.1 1068.7L1021.9 1067.4L1023.6 1067.4L1025.4 1067.5L1027.1 1068.3L1028.8 1067.2L1030.5 1068.8L1032.2 1068.7L1033.9 1067.6L1035.5 1067.2L1037.0 1067.0L1038.6 1067.6L1040.0 1068.4L1041.9 1067.2L1043.8 1066.8L1045.6 1066.4L1047.3 1066.4L1049.0 1065.7L1050.6 1065.2L1052.2 1065.3L1053.7 1064.7L1055.0 1064.5L1056.3 1064.4L1057.5 1064.3L1060.2 1064.9L1062.2 1064.6L1063.7 1064.7L1065.0 1065.9L1065.9 1067.1L1066.3 1069.6L1066.6 1071.6L1067.0 1072.1L1067.3 1071.6L1067.6 1069.6L1068.0 1067.4L1069.0 1066.0L1070.0 1065.0L1071.1 1064.6L1072.6 1065.4L1074.6 1065.7L1077.5 1066.1L1078.6 1066.3L1079.8 1067.5L1081.2 1067.5L1082.6 1067.5L1084.1 1067.9L1085.7 1068.7L1087.3 1069.8L1089.0 1069.7L1090.7 1069.8L1092.4 1069.6L1094.1 1070.1L1095.9 1071.2L1097.6 1071.8L1099.3 1071.8L1100.9 1072.3L1102.5 1072.4L1104.2 1072.5L1105.8 1073.7L1107.4 1073.6L1109.0 1074.0L1110.6 1074.4L1112.1 1073.8L1113.7 1074.4L1115.3 1074.6L1117.0 1075.5L1118.6 1075.7L1120.3 1076.6L1122.0 1077.0L1123.8 1076.7L1125.6 1077.9L1127.5 1077.9L1129.0 1077.5L1130.5 1077.6L1132.0 1078.6L1133.6 1078.9L1135.3 1079.1L1136.9 1079.4L1138.6 1079.9L1140.3 1079.9L1142.0 1079.7L1143.8 1079.6L1145.5 1081.1L1147.2 1081.9L1148.9 1082.7L1150.6 1082.6L1152.2 1082.5L1153.9 1083.2L1155.5 1083.3L1157.0 1083.2L1158.5 1083.7L1160.0 1083.8L1161.9 1084.7L1163.7 1085.0L1165.5 1085.5L1167.2 1085.8L1168.9 1085.9L1170.5 1086.2L1172.2 1086.1L1173.8 1085.5L1175.4 1086.1L1176.9 1086.3L1178.5 1086.8L1180.1 1087.2L1181.7 1087.5L1183.3 1087.1L1185.0 1087.6L1186.7 1087.4L1188.3 1087.2L1190.0 1087.7L1191.7 1088.4L1193.3 1088.4L1195.0 1089.1L1196.7 1089.9L1198.3 1090.0L1200.0 1090.9L1201.7 1090.9L1203.3 1090.8L1205.0 1090.6L1206.7 1090.1L1208.3 1090.1L1210.0 1090.2L1211.7 1089.9L1213.3 1090.9L1215.0 1091.2L1216.7 1091.4L1218.3 1091.7L1220.0 1091.2L1221.7 1091.9L1223.3 1092.5L1225.0 1092.3L1226.7 1093.7L1228.3 1093.9L1230.0 1092.4L1231.7 1093.0L1233.3 1092.7L1235.0 1093.0L1236.7 1093.2L1238.3 1092.7L1240.0 1092.4L1241.7 1092.6L1243.3 1093.5L1245.0 1093.8L1246.7 1093.2L1248.3 1093.0L1250.0 1093.2L1251.7 1092.8L1253.3 1092.9L1255.0 1093.4L1256.7 1093.4L1258.3 1093.0L1260.0 1093.3L1261.7 1093.2L1263.3 1094.3L1265.0 1094.2L1266.7 1094.0L1268.3 1093.8L1270.0 1093.1L1271.7 1093.1L1273.3 1092.5L1275.0 1093.9L1276.7 1094.4L1278.3 1094.3L1280.0 1094.0L1281.7 1093.7L1283.3 1093.3L1285.0 1093.6L1286.6 1093.8L1288.1 1093.7L1289.6 1093.1L1291.0 1092.8L1292.4 1093.4L1293.8 1093.1L1295.2 1092.8L1296.7 1093.2L1298.2 1092.8L1299.8 1093.0L1301.5 1092.6L1303.4 1093.0L1305.4 1093.1L1307.6 1093.2L1310.0 1092.9L1311.2 1092.8L1312.5 1093.5L1313.9 1093.1L1315.3 1092.7L1316.8 1093.0L1318.3 1093.3L1319.8 1093.2L1321.4 1092.7L1323.1 1092.2L1324.7 1092.4L1326.4 1092.0L1328.1 1091.8L1329.8 1092.3L1331.6 1092.4L1333.3 1092.0L1335.1 1091.9L1336.9 1092.0L1338.6 1092.0L1340.4 1091.3L1342.2 1091.8L1343.9 1091.4L1345.7 1091.1L1347.4 1091.4L1349.1 1091.4L1350.7 1091.7L1352.4 1091.8L1354.0 1091.4L1355.5 1091.3L1357.1 1090.8L1358.6 1090.9L1360.0 1090.7L1361.9 1090.9L1363.7 1091.1L1365.5 1090.4L1367.3 1090.8L1369.1 1090.3L1370.8 1090.5L1372.5 1090.5L1374.2 1090.6L1375.8 1090.3L1377.4 1090.1L1379.0 1089.6L1380.6 1089.8L1382.2 1090.0L1383.8 1089.8L1385.3 1090.0L1386.9 1089.9L1388.4 1089.5L1389.9 1089.6L1391.4 1090.5L1392.9 1090.0L1394.5 1089.9L1396.0 1090.1L1397.5 1089.9L1399.2 1089.8L1400.9 1089.7L1402.5 1089.4L1404.0 1089.7L1405.6 1089.5L1407.1 1089.2L1408.5 1089.0L1410.0 1088.9L1411.5 1089.0L1413.0 1088.6L1414.5 1088.1L1416.0 1088.1L1417.5 1088.5L1419.1 1088.4L1420.8 1088.1L1422.5 1088.0L1424.2 1088.3L1426.1 1088.2L1428.0 1087.7L1430.0 1087.6L1431.4 1087.4L1432.8 1086.9L1434.2 1087.0L1435.7 1086.7L1437.2 1087.3L1438.8 1087.5L1440.3 1087.2L1442.0 1086.7L1443.6 1086.9L1445.3 1086.8L1446.9 1086.5L1448.6 1086.8L1450.4 1086.8L1452.1 1086.2L1453.8 1086.4L1455.5 1086.4L1457.3 1085.8L1459.0 1085.3L1460.7 1086.5L1462.4 1086.4L1464.2 1086.6L1465.8 1087.1L1467.5 1085.6L1469.2 1085.8L1470.8 1085.0L1472.4 1086.2L1474.0 1085.7L1475.6 1086.0L1477.1 1085.9L1478.6 1085.6L1480.0 1085.3L1481.9 1084.9L1483.9 1085.2L1485.8 1084.7L1487.8 1084.8L1489.7 1085.0L1491.7 1084.7L1493.6 1084.5L1495.6 1084.3L1497.4 1084.6L1499.3 1085.1L1501.1 1084.6L1502.9 1084.2L1504.7 1084.3L1506.3 1084.4L1508.0 1084.1L1509.5 1084.0L1511.0 1084.0L1512.4 1084.4L1513.7 1083.9L1514.9 1083.3L1516.0 1083.0L1517.0 1083.5L1517.8 1083.4"/>
<path class="curve" stroke="#0070e0" stroke-width="5.5" d="M344.2 960.0L344.4 961.1L344.6 962.7L344.9 964.5L345.2 966.5L345.5 968.6L345.9 970.6L346.2 972.5L346.6 974.1L347.0 975.6L347.5 977.2L347.9 978.8L348.4 980.5L348.9 982.0L349.5 983.5L350.0 985.0L350.6 986.8L351.3 988.4L351.9 989.9L352.6 991.5L353.4 993.1L354.1 994.7L355.0 996.2L355.9 997.7L356.9 999.3L357.9 1000.8L359.0 1002.4L360.1 1003.7L361.3 1004.7L362.5 1006.3L363.8 1007.2L365.1 1008.4L366.5 1009.4L367.9 1010.3L369.4 1012.1L370.9 1012.9L372.5 1013.9L373.7 1015.0L375.0 1015.0L376.2 1016.6L377.5 1017.3L378.8 1018.1L380.2 1017.5L381.7 1019.3L383.3 1019.6L385.0 1020.1L386.3 1020.4L387.6 1023.1L389.0 1023.2L390.4 1023.8L391.9 1024.4L393.4 1025.4L395.0 1025.2L396.6 1025.0L398.2 1025.0L399.9 1026.1L401.6 1026.8L403.3 1026.4L405.0 1025.9L406.4 1028.2L407.9 1029.0L409.4 1029.0L410.9 1028.9L412.4 1030.1L414.0 1029.6L415.6 1029.9L417.2 1028.5L418.8 1030.8L420.4 1031.8L422.0 1031.7L423.6 1032.5L425.2 1032.2L426.8 1033.4L428.4 1033.3L430.0 1033.0L431.7 1033.2L433.3 1034.6L435.0 1034.6L436.7 1035.5L438.3 1034.4L440.0 1035.1L441.7 1035.2L443.3 1036.5L445.0 1035.5L446.7 1036.2L448.3 1036.7L450.0 1037.4L451.7 1037.6L453.3 1038.1L455.0 1038.5L456.7 1037.4L458.4 1036.6L460.2 1037.6L462.0 1038.0L463.8 1038.5L465.6 1038.5L467.4 1038.5L469.2 1037.9L470.9 1037.1L472.6 1037.8L474.2 1038.1L475.8 1037.2L477.3 1037.7L478.7 1036.9L480.0 1038.8L482.4 1037.6L484.5 1038.0L486.2 1039.9L487.8 1038.2L489.3 1037.0L490.8 1037.6L492.5 1039.8L494.2 1040.0L495.7 1039.5L497.2 1038.6L498.8 1038.3L500.5 1037.4L502.6 1038.1L505.0 1039.2L506.3 1039.0L507.7 1039.8L509.2 1040.9L510.8 1040.3L512.4 1038.9L514.1 1037.3L515.8 1038.8L517.6 1037.9L519.4 1039.2L521.2 1037.3L523.0 1038.2L524.8 1039.2L526.6 1038.8L528.3 1038.7L530.0 1039.3L531.7 1038.2L533.3 1038.4L535.0 1038.1L536.7 1038.4L538.3 1039.7L540.0 1039.3L541.7 1038.7L543.3 1038.2L545.0 1039.8L546.7 1039.0L548.3 1039.5L550.0 1038.9L551.7 1037.3L553.3 1036.1L555.0 1037.1L556.7 1041.0L558.3 1038.3L560.0 1037.8L561.7 1038.4L563.3 1037.3L565.0 1037.9L566.7 1036.2L568.3 1037.2L570.0 1036.3L571.7 1036.5L573.3 1036.4L575.0 1034.8L576.7 1035.6L578.3 1036.4L580.0 1036.2L581.7 1036.6L583.3 1036.1L585.0 1036.7L586.7 1036.7L588.3 1036.1L590.0 1037.4L591.7 1037.3L593.3 1036.6L595.0 1036.6L596.7 1035.8L598.3 1036.8L600.0 1036.3L601.7 1032.2L603.3 1034.7L605.0 1034.7L606.7 1034.3L608.3 1034.4L610.0 1033.6L611.7 1035.2L613.3 1034.3L615.0 1035.5L616.7 1035.1L618.3 1036.2L620.0 1034.9L621.7 1034.6L623.3 1035.0L625.0 1035.4L626.7 1035.6L628.3 1037.6L630.0 1037.2L631.7 1036.7L633.3 1036.5L635.0 1034.3L636.7 1035.7L638.3 1036.0L640.0 1037.1L641.7 1038.5L643.3 1036.5L645.0 1036.2L646.7 1036.5L648.3 1036.8L650.0 1039.2L651.7 1036.0L653.3 1037.5L655.0 1038.1L656.7 1038.4L658.3 1036.9L660.0 1037.1L661.7 1037.0L663.3 1037.5L665.0 1037.2L666.7 1037.1L668.3 1038.4L670.0 1038.2L671.7 1039.4L673.3 1038.9L675.0 1039.9L676.7 1043.0L678.3 1041.4L680.0 1042.2L681.7 1041.6L683.3 1040.1L685.0 1039.3L686.7 1040.8L688.3 1040.0L690.0 1038.7L691.7 1038.5L693.3 1039.9L695.0 1040.8L696.7 1041.5L698.3 1040.5L700.0 1040.8L701.7 1041.6L703.3 1042.4L705.0 1042.6L706.7 1042.2L708.4 1040.9L710.2 1042.2L712.1 1041.6L713.9 1042.2L715.7 1042.2L717.5 1041.2L719.3 1042.4L721.1 1042.2L722.8 1042.9L724.4 1043.5L726.0 1043.4L727.4 1042.2L728.8 1042.6L730.0 1043.1L732.4 1044.1L733.9 1046.8L735.0 1046.5L736.1 1045.4L737.6 1045.3L740.0 1044.5L741.2 1045.5L742.6 1045.7L744.0 1047.1L745.6 1046.9L747.2 1047.1L748.9 1049.1L750.7 1047.3L752.5 1046.2L754.3 1048.0L756.1 1047.6L757.9 1047.6L759.8 1047.5L761.6 1047.4L763.3 1048.4L765.0 1047.6L766.7 1047.9L768.3 1046.8L770.0 1047.0L771.7 1048.7L773.3 1048.2L775.0 1046.8L776.7 1046.5L778.3 1047.8L780.0 1048.8L781.7 1048.1L783.3 1047.9L785.0 1046.7L786.7 1047.2L788.3 1047.0L790.0 1046.6L791.7 1047.3L793.3 1047.8L795.0 1048.7L796.7 1049.5L798.3 1048.5L800.0 1047.8L801.7 1049.5L803.3 1049.3L805.0 1049.0L806.7 1048.0L808.3 1047.4L810.0 1046.3L811.7 1046.4L813.3 1046.5L815.0 1046.8L816.7 1047.1L818.3 1045.6L820.0 1046.6L821.7 1045.8L823.3 1045.7L825.0 1048.2L826.7 1047.1L828.3 1047.9L830.0 1048.1L831.7 1046.4L833.3 1046.5L835.0 1044.9L836.7 1044.4L838.3 1044.8L840.0 1047.3L841.7 1046.1L843.3 1045.2L845.0 1044.3L846.7 1043.7L848.3 1044.7L850.0 1044.6L851.7 1042.9L853.3 1043.4L855.0 1042.7L856.7 1040.6L858.3 1041.6L860.0 1040.2L861.7 1040.0L863.3 1040.6L865.0 1038.9L866.7 1037.3L868.3 1038.5L870.0 1036.9L871.7 1039.4L873.3 1039.9L875.0 1038.0L876.7 1037.4L878.3 1037.4L880.0 1036.8L881.7 1037.3L883.3 1037.1L885.0 1036.3L886.7 1036.3L888.3 1035.3L890.0 1035.3L891.7 1036.6L893.4 1034.1L895.2 1034.1L896.9 1032.9L898.7 1034.6L900.5 1032.7L902.2 1031.9L904.0 1032.4L905.7 1032.2L907.4 1032.5L909.1 1032.0L910.6 1030.3L912.2 1030.5L913.6 1029.6L915.0 1028.6L916.9 1028.3L918.7 1028.2L920.4 1027.5L922.0 1027.2L923.4 1026.6L924.8 1026.5L926.2 1025.9L927.5 1024.8L928.7 1024.0L930.0 1023.0L931.9 1022.7L933.5 1022.7L935.0 1021.9L936.5 1021.3L938.1 1020.3L940.0 1020.0L941.3 1019.2L942.7 1019.1L944.1 1018.3L945.6 1018.1L947.1 1017.1L948.7 1017.0L950.2 1016.2L951.8 1015.2L953.4 1014.6L955.0 1014.0L956.3 1013.1L957.7 1012.3L959.0 1011.7L960.4 1010.9L961.8 1009.5L963.2 1008.9L964.6 1008.2L966.0 1007.4L967.4 1006.5L968.8 1005.2L970.2 1004.6L971.5 1003.3L972.7 1002.1L973.8 1001.1L975.0 999.9L976.2 998.6L977.3 997.2L978.5 996.1L979.6 994.8L980.8 993.1L981.9 991.8L983.0 990.6L984.0 989.4L985.1 988.1L986.1 986.9L987.0 985.6L988.0 984.3L989.0 982.6L990.0 981.1L990.8 979.7L991.7 978.3L992.5 976.9L993.3 975.5L994.1 973.9L994.9 972.5L995.7 971.0L996.4 969.4L997.2 968.0L998.1 966.7L998.9 965.1L999.7 963.4L1000.5 961.6L1001.3 960.1L1002.1 958.5L1002.9 957.0L1003.6 955.8L1004.4 954.3L1005.1 952.8L1005.8 951.4L1006.5 950.1L1007.6 948.3L1008.6 946.6L1009.6 945.4L1010.5 943.9L1011.4 942.5L1012.3 941.6L1013.2 940.6L1014.9 939.0L1016.4 938.5L1018.1 937.9L1020.0 937.2L1021.5 937.4L1023.2 937.7L1025.0 937.9L1026.7 938.3L1028.4 938.5L1030.0 937.9L1031.7 936.9L1033.2 935.9L1034.6 935.1L1036.0 934.1L1037.5 932.7L1038.4 931.7L1039.4 930.5L1040.3 929.0L1041.2 927.6L1042.2 925.9L1043.1 924.5L1044.1 922.9L1045.0 921.3L1045.8 919.9L1046.5 918.4L1047.2 917.1L1048.0 915.8L1048.8 914.2L1049.5 912.7L1050.2 911.1L1051.0 909.6L1051.8 907.8L1052.5 906.2L1053.1 904.8L1053.8 903.3L1054.4 901.8L1055.1 900.1L1055.8 898.6L1056.4 897.1L1057.1 895.5L1057.7 893.8L1058.3 892.2L1058.9 890.7L1059.5 889.1L1060.0 887.5L1060.5 885.9L1061.0 884.3L1061.4 882.8L1061.8 881.3L1062.1 879.7L1062.5 878.1L1062.8 876.6L1063.2 875.1L1063.6 873.4L1064.0 871.8L1064.5 870.0L1064.9 868.6L1065.3 867.0L1065.7 865.5L1066.2 863.9L1066.6 862.4L1067.1 860.8L1067.6 859.1L1068.0 857.4L1068.5 855.8L1069.0 854.1L1069.5 852.5L1069.9 851.0L1070.4 849.4L1070.8 847.9L1071.3 846.1L1071.7 844.5L1072.2 842.8L1072.6 841.2L1073.1 839.5L1073.5 837.9L1074.0 836.3L1074.4 834.6L1074.9 833.0L1075.3 831.4L1075.8 829.8L1076.3 828.1L1076.8 826.6L1077.3 825.1L1077.8 823.6L1078.3 822.0L1078.8 820.6L1079.3 819.1L1079.8 817.6L1080.4 816.0L1080.9 814.5L1081.4 813.0L1082.0 811.5L1082.5 810.0L1083.0 808.4L1083.6 806.9L1084.1 805.4L1084.7 803.9L1085.2 802.3L1085.8 800.8L1086.3 799.3L1086.9 797.7L1087.5 796.2L1088.0 794.8L1088.6 793.2L1089.1 791.7L1089.6 790.1L1090.1 788.7L1090.7 787.1L1091.2 785.5L1091.6 783.9L1092.1 782.3L1092.5 780.8L1093.0 779.2L1093.5 777.6L1093.9 776.0L1094.4 774.4L1094.9 772.7L1095.5 770.8L1096.1 768.9L1096.5 767.6L1096.9 766.1L1097.4 764.7L1097.9 763.3L1098.4 761.8L1098.9 760.1L1099.5 758.5L1100.0 757.0L1100.5 755.5L1101.1 753.9L1101.6 752.3L1102.1 750.6L1102.6 749.0L1103.2 747.3L1103.7 745.8L1104.1 744.3L1104.6 742.7L1105.1 741.1L1105.5 739.6L1106.0 738.0L1106.4 736.4L1106.8 734.9L1107.3 733.3L1107.7 731.8L1108.1 730.2L1108.5 728.7L1108.9 727.2L1109.3 725.7L1109.7 724.1L1110.1 722.6L1110.5 721.0L1110.8 719.4L1111.2 717.8L1111.6 716.3L1112.0 714.7L1112.3 712.9L1112.7 711.2L1113.1 709.4L1113.4 707.7L1113.8 705.9L1114.1 704.1L1114.4 702.4L1114.8 700.6L1115.1 698.9L1115.4 697.3L1115.7 695.6L1116.0 694.1L1116.3 692.6L1116.6 691.3L1116.8 690.0L1117.3 687.9L1117.7 686.3L1118.1 685.0L1118.4 683.9L1118.8 682.7L1119.1 681.3L1119.5 679.4L1120.0 677.0L1120.2 675.8L1120.4 674.6L1120.7 673.2L1120.9 671.8L1121.1 670.4L1121.4 668.9L1121.6 667.3L1121.9 665.6L1122.1 664.0L1122.4 662.3L1122.6 660.5L1122.9 658.8L1123.2 657.0L1123.4 655.2L1123.7 653.4L1124.0 651.6L1124.2 649.8L1124.5 648.0L1124.7 646.3L1125.0 644.5L1125.2 643.0L1125.4 641.4L1125.7 639.8L1125.9 638.3L1126.1 636.6L1126.3 635.1L1126.5 633.5L1126.7 631.8L1127.0 630.2L1127.2 628.5L1127.4 626.9L1127.6 625.2L1127.8 623.6L1128.0 621.9L1128.3 620.2L1128.5 618.6L1128.7 616.9L1128.9 615.2L1129.1 613.6L1129.3 611.9L1129.6 610.3L1129.8 608.6L1130.0 607.0L1130.2 605.4L1130.4 603.7L1130.7 602.1L1130.9 600.5L1131.1 598.9L1131.3 597.2L1131.5 595.6L1131.7 594.0L1132.0 592.3L1132.2 590.7L1132.4 589.1L1132.6 587.4L1132.8 585.8L1133.0 584.2L1133.3 582.5L1133.5 580.9L1133.7 579.3L1133.9 577.6L1134.1 576.0L1134.3 574.4L1134.6 572.8L1134.8 571.1L1135.0 569.5L1135.2 567.9L1135.4 566.2L1135.7 564.6L1135.9 563.0L1136.1 561.4L1136.3 559.7L1136.5 558.1L1136.7 556.5L1137.0 554.8L1137.2 553.2L1137.4 551.6L1137.6 549.9L1137.8 548.3L1138.0 546.7L1138.3 545.0L1138.5 543.4L1138.7 541.8L1138.9 540.2L1139.1 538.5L1139.3 536.9L1139.6 535.3L1139.8 533.6L1140.0 532.0L1140.2 530.4L1140.4 528.7L1140.7 527.1L1140.9 525.5L1141.1 523.9L1141.3 522.2L1141.5 520.6L1141.7 519.0L1142.0 517.3L1142.2 515.7L1142.4 514.1L1142.6 512.5L1142.8 510.8L1143.0 509.2L1143.3 507.6L1143.5 505.9L1143.7 504.3L1143.9 502.7L1144.1 501.0L1144.3 499.4L1144.6 497.8L1144.8 496.1L1145.0 494.5L1145.2 492.9L1145.4 491.2L1145.6 489.5L1145.9 487.8L1146.1 486.1L1146.3 484.4L1146.5 482.7L1146.7 481.0L1146.9 479.3L1147.1 477.6L1147.4 475.9L1147.6 474.3L1147.8 472.6L1148.0 470.9L1148.2 469.3L1148.4 467.6L1148.7 466.0L1148.9 464.4L1149.1 462.9L1149.3 461.4L1149.5 459.9L1149.8 458.4L1150.0 457.0L1150.3 455.1L1150.7 453.3L1151.0 451.4L1151.4 449.5L1151.7 447.7L1152.1 445.9L1152.5 444.1L1152.8 442.4L1153.2 440.7L1153.5 439.1L1153.9 437.6L1154.2 436.1L1154.5 434.7L1154.8 433.4L1155.1 432.2L1155.3 431.0L1155.5 430.0L1156.1 427.1L1156.2 425.8L1156.3 425.1L1156.6 423.7L1156.9 422.2L1157.3 420.6L1157.7 418.8L1158.1 417.0L1158.5 415.1L1158.9 413.2L1159.3 411.6L1159.6 410.0L1159.9 408.4L1160.2 406.8L1160.6 405.1L1160.9 403.3L1161.2 401.6L1161.6 400.0L1161.9 398.3L1162.3 396.7L1162.6 395.1L1163.0 393.4L1163.3 391.8L1163.7 390.1L1164.1 388.5L1164.5 386.8L1164.9 385.1L1165.3 383.5L1165.7 381.9L1166.1 380.2L1166.5 378.6L1166.9 377.0L1167.3 375.3L1167.8 373.7L1168.2 372.1L1168.6 370.5L1169.0 368.8L1169.4 367.2L1169.8 365.6L1170.2 363.9L1170.6 362.3L1171.1 360.5L1171.4 359.1L1171.7 357.6L1172.1 356.0L1172.4 354.4L1172.7 352.8L1173.1 351.2L1173.4 349.6L1173.7 348.0L1174.0 346.3L1174.3 344.7L1174.6 343.2L1174.9 341.6L1175.2 340.0L1175.5 338.4L1175.7 336.9L1176.0 335.3L1176.2 333.7L1176.5 332.1L1176.7 330.5L1177.0 329.0L1177.2 327.2L1177.5 325.5L1177.7 323.7L1178.0 321.9L1178.2 320.2L1178.5 318.4L1178.7 316.7L1179.0 314.9L1179.2 313.2L1179.5 311.4L1179.7 309.6L1180.0 307.9L1180.3 306.1L1180.5 304.4L1180.8 302.6L1181.1 300.9L1181.3 299.1L1181.6 297.4L1181.8 295.6L1182.1 293.8L1182.4 292.0L1182.6 290.2L1182.9 288.4L1183.2 286.6L1183.4 284.9L1183.7 283.2L1183.9 281.6L1184.2 279.8L1184.5 278.1L1184.8 276.4L1185.1 274.7L1185.4 273.0L1185.7 271.5L1186.0 269.9L1186.2 268.4L1186.4 266.5L1186.6 264.7L1186.8 263.0L1186.9 261.3L1187.1 259.6L1187.2 257.9L1187.4 256.1L1187.6 254.4L1187.9 252.6L1188.1 250.9L1188.3 249.1L1188.6 247.4L1188.8 245.6L1189.1 243.9L1189.3 242.1L1189.6 240.4L1189.9 238.6L1190.1 236.8L1190.4 235.1L1190.6 233.3L1190.8 231.6L1191.0 229.8L1191.2 228.1L1191.4 226.3L1191.7 224.6L1191.9 222.8L1192.1 221.1L1192.3 219.3L1192.5 217.6L1192.8 215.8L1193.0 214.0L1193.3 212.3L1193.6 210.5L1193.9 208.8L1194.2 207.0L1194.5 205.3L1194.7 203.5L1195.0 201.7L1195.2 199.9L1195.5 198.1L1195.7 196.4L1196.1 194.7L1196.5 192.8L1196.9 190.9L1197.4 189.2L1197.9 187.4L1198.4 185.5L1198.9 183.7L1199.4 181.8L1200.0 180.0L1200.5 178.2L1201.1 176.3L1201.5 174.7L1202.0 173.3L1202.5 171.8L1203.0 170.2L1203.5 168.7L1203.9 167.2L1204.3 165.5L1204.7 163.7L1205.0 161.9L1205.3 160.1L1205.6 158.4L1205.9 156.6L1206.2 154.8L1206.5 153.0L1206.9 151.2L1207.2 149.4L1207.5 147.7L1207.9 146.0L1208.4 144.4L1209.0 142.8L1209.6 141.3L1210.2 139.8L1210.8 138.1L1211.3 136.4L1211.8 134.5L1212.2 132.7L1212.7 130.8L1213.2 128.9L1213.6 127.1L1214.1 125.1L1214.5 123.2L1215.0 121.4L1215.5 119.7L1216.2 117.8L1216.9 116.1L1217.6 114.5L1218.4 113.2L1219.7 112.0L1221.2 110.9L1222.6 110.0L1224.6 110.6L1226.3 112.5L1227.2 114.1L1228.0 116.1L1228.7 118.3L1229.1 119.8L1229.6 121.5L1230.0 123.0L1230.5 124.6L1230.9 126.3L1231.4 127.8L1231.8 129.4L1232.3 130.9L1232.7 132.5L1233.2 134.2L1233.6 136.0L1234.0 137.9L1234.4 139.8L1234.8 141.7L1235.3 143.4L1235.8 145.1L1236.3 146.6L1236.9 148.1L1237.4 149.7L1237.9 151.4L1238.3 153.1L1238.7 154.9L1239.0 156.8L1239.4 158.7L1239.7 160.5L1240.1 162.4L1240.4 164.3L1240.7 166.1L1241.0 168.0L1241.4 169.7L1241.9 171.3L1242.5 172.9L1243.0 174.5L1243.6 176.0L1244.1 177.7L1244.5 179.4L1244.8 181.2L1245.2 183.1L1245.5 185.0L1245.8 186.8L1246.1 188.7L1246.4 190.5L1246.7 192.4L1247.0 194.2L1247.4 196.0L1247.7 197.9L1248.1 199.8L1248.5 201.7L1248.9 203.5L1249.3 205.2L1249.7 206.9L1250.2 208.5L1250.6 210.0L1251.0 211.5L1251.3 213.1L1251.6 214.9L1251.9 216.7L1252.1 218.6L1252.4 220.5L1252.6 222.4L1252.9 224.2L1253.3 226.1L1253.6 227.9L1253.9 229.7L1254.2 231.6L1254.5 233.4L1254.8 235.3L1255.1 237.1L1255.4 239.0L1255.7 240.8L1255.9 242.6L1256.2 244.5L1256.5 246.3L1256.7 248.2L1257.0 250.0L1257.2 251.8L1257.5 253.6L1257.7 255.4L1257.9 257.3L1258.2 259.2L1258.3 260.9L1258.5 262.6L1258.6 264.3L1258.8 266.1L1259.0 267.9L1259.2 269.7L1259.4 271.3L1259.7 272.9L1260.0 274.5L1260.3 276.2L1260.6 277.9L1260.9 279.7L1261.2 281.6L1261.4 283.2L1261.6 284.8L1261.8 286.6L1262.0 288.3L1262.2 290.1L1262.4 292.0L1262.5 293.8L1262.7 295.6L1262.9 297.4L1263.1 299.1L1263.2 300.9L1263.4 302.6L1263.5 304.4L1263.6 306.1L1263.8 307.9L1263.9 309.6L1264.1 311.4L1264.2 313.2L1264.4 314.9L1264.5 316.7L1264.6 318.4L1264.8 320.2L1264.9 321.9L1265.1 323.7L1265.2 325.4L1265.4 327.2L1265.5 328.9L1265.7 330.7L1265.8 332.5L1266.0 334.2L1266.1 336.0L1266.3 337.7L1266.4 339.5L1266.6 341.2L1266.7 343.0L1266.8 344.7L1267.0 346.5L1267.1 348.2L1267.3 350.0L1267.4 351.8L1267.5 353.5L1267.6 355.3L1267.8 357.0L1267.9 358.8L1268.0 360.5L1268.1 362.3L1268.3 364.0L1268.4 365.8L1268.5 367.5L1268.6 369.3L1268.7 371.1L1268.9 372.8L1269.0 374.6L1269.1 376.3L1269.2 378.1L1269.3 379.8L1269.4 381.6L1269.5 383.3L1269.6 385.1L1269.7 386.8L1269.8 388.6L1269.9 390.4L1270.0 392.1L1270.1 393.9L1270.2 395.7L1270.3 397.5L1270.4 399.3L1270.5 401.1L1270.5 402.8L1270.6 404.6L1270.7 406.3L1270.8 407.9L1270.9 409.7L1271.0 411.4L1271.1 413.1L1271.2 414.8L1271.3 416.4L1271.4 418.0L1271.4 419.5L1271.4 421.1L1271.4 422.7L1271.3 423.9L1271.2 425.0L1271.0 426.5L1271.0 428.7L1271.0 432.0L1271.0 433.1L1271.1 434.3L1271.1 435.6L1271.1 436.9L1271.2 438.4L1271.3 439.9L1271.3 441.5L1271.4 443.1L1271.4 444.7L1271.5 446.5L1271.6 448.2L1271.7 450.0L1271.7 451.8L1271.8 453.6L1271.9 455.4L1272.0 457.2L1272.1 459.1L1272.1 460.9L1272.2 462.6L1272.3 464.4L1272.4 466.1L1272.4 467.8L1272.5 469.5L1272.6 471.1L1272.6 472.8L1272.7 474.4L1272.8 476.0L1272.8 477.7L1272.9 479.3L1273.0 480.9L1273.0 482.5L1273.1 484.2L1273.2 485.8L1273.2 487.4L1273.3 489.1L1273.3 490.7L1273.4 492.3L1273.5 494.0L1273.5 495.6L1273.6 497.2L1273.7 498.8L1273.7 500.5L1273.8 502.1L1273.9 503.7L1273.9 505.4L1274.0 507.0L1274.1 508.6L1274.1 510.3L1274.2 511.9L1274.3 513.5L1274.3 515.2L1274.4 516.8L1274.5 518.4L1274.5 520.0L1274.6 521.7L1274.7 523.3L1274.7 524.9L1274.8 526.6L1274.8 528.2L1274.9 529.8L1275.0 531.5L1275.0 533.1L1275.1 534.7L1275.2 536.3L1275.2 538.0L1275.3 539.6L1275.4 541.2L1275.4 542.9L1275.5 544.5L1275.6 546.1L1275.6 547.8L1275.7 549.4L1275.8 551.0L1275.8 552.7L1275.9 554.3L1275.9 555.9L1276.0 557.5L1276.1 559.2L1276.1 560.8L1276.2 562.4L1276.3 564.1L1276.3 565.7L1276.4 567.3L1276.5 569.0L1276.5 570.6L1276.6 572.2L1276.7 573.8L1276.7 575.5L1276.8 577.1L1276.9 578.7L1276.9 580.4L1277.0 582.0L1277.1 583.6L1277.1 585.3L1277.2 586.9L1277.3 588.5L1277.4 590.2L1277.4 591.8L1277.5 593.4L1277.6 595.0L1277.7 596.7L1277.8 598.3L1277.8 599.9L1277.9 601.6L1278.0 603.2L1278.1 604.8L1278.1 606.5L1278.2 608.1L1278.3 609.7L1278.4 611.3L1278.5 613.0L1278.5 614.6L1278.6 616.2L1278.7 617.9L1278.8 619.5L1278.8 621.1L1278.9 622.8L1279.0 624.4L1279.0 626.0L1279.1 627.7L1279.2 629.3L1279.2 630.9L1279.3 632.5L1279.4 634.2L1279.4 635.8L1279.5 637.4L1279.5 639.1L1279.6 640.7L1279.7 642.3L1279.7 644.0L1279.8 645.6L1279.9 647.2L1279.9 648.8L1280.0 650.5L1280.1 652.1L1280.1 653.7L1280.2 655.4L1280.2 657.0L1280.3 658.6L1280.4 660.3L1280.4 661.9L1280.5 663.5L1280.6 665.2L1280.6 666.8L1280.7 668.4L1280.8 670.0L1280.8 671.7L1280.9 673.3L1281.0 674.9L1281.0 676.6L1281.1 678.2L1281.2 679.8L1281.2 681.5L1281.3 683.1L1281.4 684.7L1281.4 686.3L1281.5 688.0L1281.6 689.6L1281.6 691.2L1281.7 692.9L1281.8 694.5L1281.8 696.1L1281.9 697.7L1281.9 699.4L1282.0 701.0L1282.1 702.6L1282.1 704.2L1282.2 705.8L1282.3 707.4L1282.3 709.0L1282.4 710.6L1282.5 712.2L1282.5 713.8L1282.6 715.4L1282.6 717.0L1282.7 718.6L1282.8 720.3L1282.8 721.9L1282.9 723.5L1283.0 725.2L1283.0 726.9L1283.1 728.6L1283.2 730.3L1283.2 732.0L1283.3 733.5L1283.4 735.1L1283.4 736.7L1283.5 738.3L1283.6 739.9L1283.6 741.5L1283.7 743.1L1283.8 744.7L1283.8 746.4L1283.9 748.0L1284.0 749.7L1284.0 751.3L1284.1 753.0L1284.2 754.7L1284.2 756.3L1284.3 758.0L1284.4 759.6L1284.4 761.3L1284.5 762.9L1284.6 764.5L1284.6 766.1L1284.7 767.7L1284.8 769.3L1284.9 770.9L1284.9 772.5L1285.0 774.0L1285.1 775.7L1285.2 777.4L1285.2 779.1L1285.3 780.8L1285.4 782.5L1285.5 784.1L1285.6 785.7L1285.7 787.4L1285.7 789.0L1285.8 790.6L1285.9 792.2L1286.0 793.8L1286.1 795.4L1286.2 797.0L1286.3 798.6L1286.3 800.2L1286.4 801.8L1286.5 803.4L1286.6 805.0L1286.7 806.6L1286.8 808.3L1286.9 809.9L1287.0 811.5L1287.1 813.1L1287.2 814.8L1287.3 816.4L1287.4 818.0L1287.5 819.7L1287.6 821.3L1287.7 822.9L1287.8 824.5L1287.9 826.2L1288.0 827.8L1288.1 829.4L1288.2 831.1L1288.4 832.7L1288.5 834.3L1288.6 836.0L1288.7 837.6L1288.8 839.2L1288.9 840.9L1289.0 842.5L1289.1 844.1L1289.3 845.7L1289.4 847.4L1289.5 849.0L1289.6 850.6L1289.7 852.3L1289.9 853.9L1290.0 855.6L1290.1 857.3L1290.2 859.0L1290.4 860.7L1290.5 862.3L1290.6 864.0L1290.7 865.7L1290.9 867.4L1291.0 869.1L1291.1 870.7L1291.2 872.4L1291.4 874.0L1291.5 875.6L1291.7 877.3L1291.8 878.9L1291.9 880.4L1292.1 882.0L1292.2 883.5L1292.4 885.0L1292.5 886.5L1292.7 888.4L1292.9 890.2L1293.1 892.0L1293.3 893.8L1293.5 895.5L1293.6 897.2L1293.8 899.0L1294.0 900.6L1294.2 902.3L1294.5 903.9L1294.7 905.5L1294.9 907.1L1295.1 908.7L1295.3 910.3L1295.5 911.9L1295.8 913.4L1296.0 915.0L1296.2 916.5L1296.5 918.3L1296.9 920.2L1297.2 922.0L1297.5 923.7L1297.8 925.5L1298.2 927.2L1298.5 929.0L1298.8 930.7L1299.2 932.3L1299.5 934.0L1299.9 935.6L1300.2 937.2L1300.6 938.7L1300.9 940.1L1301.2 941.5L1301.8 943.6L1302.3 945.4L1302.7 947.2L1303.2 949.0L1303.8 950.7L1304.2 952.2L1304.7 953.6L1305.2 955.1L1305.8 956.6L1306.2 957.8L1307.1 959.6L1307.9 961.5L1308.8 963.1L1309.6 964.6L1310.4 965.7L1311.2 966.9L1312.9 967.9L1314.5 968.7L1316.2 968.6L1317.7 968.0L1319.2 967.4L1320.8 966.8L1322.5 965.5L1323.5 964.3L1324.5 963.3L1325.5 962.1L1326.5 960.8L1327.6 959.3L1328.8 957.9L1330.0 956.4L1331.1 955.3L1332.3 954.2L1333.6 952.9L1334.8 951.7L1336.1 950.6L1337.4 949.6L1338.7 948.8L1340.0 947.6L1341.8 946.7L1343.6 946.1L1345.5 945.4L1347.3 945.0L1348.8 944.4L1350.0 944.2L1352.0 941.7L1352.9 940.6L1354.1 939.7L1355.4 938.8L1356.7 937.0L1357.9 935.7L1359.0 934.3L1360.1 932.9L1361.2 931.5L1362.2 929.7L1363.2 927.8L1363.9 926.5L1364.6 925.0L1365.2 923.5L1365.8 921.9L1366.5 920.3L1367.1 918.8L1367.7 917.2L1368.3 915.7L1368.8 914.3L1369.4 912.8L1370.0 911.2L1370.5 909.7L1371.1 908.3L1371.6 906.5L1372.2 904.7L1372.7 903.0L1373.3 901.2L1373.8 899.4L1374.3 897.6L1374.8 896.0L1375.3 894.3L1375.8 892.6L1376.3 890.9L1376.7 889.2L1377.2 887.5L1377.6 885.8L1378.0 884.1L1378.5 882.4L1378.8 880.7L1379.2 879.0L1379.6 877.3L1379.9 875.6L1380.3 874.0L1380.6 872.3L1380.9 870.6L1381.2 869.0L1381.4 867.3L1381.7 865.6L1382.0 863.9L1382.2 862.1L1382.5 860.5L1382.7 858.9L1382.9 857.3L1383.1 855.6L1383.3 853.9L1383.6 852.3L1383.8 850.6L1383.9 848.9L1384.1 847.3L1384.3 845.7L1384.5 844.0L1384.6 842.4L1384.8 840.7L1384.9 839.1L1385.1 837.4L1385.3 835.8L1385.4 834.1L1385.6 832.5L1385.8 830.8L1386.1 829.2L1386.3 827.6L1386.5 825.9L1386.7 824.3L1386.8 822.6L1387.0 821.0L1387.2 819.3L1387.3 817.7L1387.5 816.0L1387.7 814.4L1387.8 812.8L1388.0 811.1L1388.2 809.5L1388.3 807.8L1388.5 806.1L1388.7 804.3L1388.9 802.6L1389.1 800.9L1389.3 799.2L1389.5 797.7L1389.7 796.3L1390.0 794.4L1390.3 792.6L1390.6 791.1L1390.9 789.7L1391.2 788.4L1392.0 785.5L1392.8 784.3L1393.6 785.6L1394.5 788.5L1394.8 789.7L1395.1 791.0L1395.4 792.6L1395.7 794.3L1396.1 796.3L1396.3 797.7L1396.5 799.2L1396.7 800.9L1396.9 802.6L1397.1 804.3L1397.3 806.1L1397.4 807.8L1397.6 809.5L1397.8 811.1L1398.0 812.8L1398.1 814.4L1398.3 816.1L1398.5 817.7L1398.6 819.3L1398.8 821.0L1398.9 822.6L1399.1 824.3L1399.3 825.9L1399.5 827.6L1399.6 829.2L1399.8 830.9L1400.0 832.5L1400.1 834.1L1400.3 835.8L1400.4 837.4L1400.5 839.1L1400.7 840.7L1400.8 842.4L1400.9 844.0L1401.1 845.7L1401.2 847.3L1401.3 848.9L1401.4 850.6L1401.6 852.2L1401.7 853.9L1401.9 855.5L1402.0 857.2L1402.1 858.8L1402.2 860.5L1402.4 862.1L1402.5 863.8L1402.6 865.4L1402.7 867.0L1402.8 868.7L1402.9 870.3L1403.1 872.0L1403.2 873.6L1403.3 875.3L1403.4 876.9L1403.5 878.6L1403.6 880.2L1403.8 881.8L1403.9 883.5L1404.0 885.1L1404.1 886.8L1404.2 888.4L1404.3 890.1L1404.4 891.7L1404.5 893.4L1404.6 895.0L1404.7 896.6L1404.8 898.3L1404.9 899.9L1405.0 901.6L1405.1 903.2L1405.2 904.9L1405.3 906.5L1405.4 908.2L1405.5 909.8L1405.6 911.4L1405.7 913.1L1405.8 914.7L1405.9 916.4L1406.0 918.0L1406.1 919.7L1406.2 921.3L1406.3 923.0L1406.4 924.6L1406.5 926.2L1406.6 927.9L1406.6 929.5L1406.7 930.9L1406.8 932.4L1406.8 933.8L1406.9 935.3L1406.9 937.0L1406.9 938.9L1407.0 941.1L1407.0 942.4L1407.0 943.9L1407.0 945.5L1407.0 947.1L1406.9 948.8L1406.9 950.5L1406.9 952.3L1406.9 954.1L1406.9 955.9L1406.9 957.8L1406.9 959.6L1406.9 961.4L1407.0 963.2L1407.0 965.0L1407.1 966.6L1407.1 968.3L1407.2 969.9L1407.3 971.6L1407.4 973.3L1407.5 974.9L1407.6 976.6L1407.7 978.3L1407.8 979.9L1407.9 981.6L1408.0 983.3L1408.2 985.0L1408.3 986.7L1408.4 988.3L1408.5 990.0L1408.6 991.7L1408.7 993.4L1408.8 995.1L1408.9 996.8L1409.1 998.5L1409.2 1000.2L1409.3 1001.9L1409.4 1003.6L1409.5 1005.2L1409.6 1006.9L1409.7 1008.6L1409.9 1010.2L1410.0 1011.8L1410.1 1013.4L1410.2 1015.0L1410.3 1016.8L1410.4 1018.6L1410.5 1020.3L1410.6 1022.1L1410.7 1023.8L1410.8 1025.5L1410.9 1027.2L1411.0 1028.9L1411.1 1030.5L1411.2 1032.1L1411.3 1033.6L1411.4 1035.2L1411.5 1036.7L1411.6 1038.6L1411.7 1040.5L1411.8 1042.3L1411.9 1044.1L1412.0 1045.8L1412.1 1047.5L1412.2 1049.1L1412.3 1050.6L1412.5 1052.0L1412.7 1053.3L1413.1 1055.6L1413.6 1057.5L1414.2 1059.1L1414.8 1060.4L1415.7 1061.6L1416.8 1063.1L1418.1 1064.1L1419.7 1065.0L1421.7 1065.5L1422.9 1066.0L1424.1 1065.8L1425.3 1066.1L1426.8 1066.4L1428.5 1066.5L1430.7 1066.7L1433.3 1066.7L1434.5 1066.9L1435.8 1066.9L1437.2 1067.1L1438.7 1067.1L1440.2 1067.0L1441.9 1067.1L1443.5 1067.3L1445.2 1067.1L1447.0 1067.3L1448.8 1067.7L1450.6 1067.5L1452.4 1067.6L1454.2 1067.7L1456.1 1067.4L1457.9 1067.8L1459.8 1068.2L1461.6 1067.6L1463.3 1068.0L1464.9 1067.6L1466.6 1067.8L1468.3 1067.2L1470.0 1067.5L1471.7 1067.4L1473.5 1067.0L1475.2 1066.9L1477.0 1066.8L1478.8 1066.7L1480.6 1067.0L1482.3 1066.9L1484.0 1066.3L1485.8 1066.5L1487.5 1066.7L1489.1 1066.7L1490.7 1067.0L1492.3 1066.3L1493.8 1066.4L1495.3 1066.4L1496.7 1066.5L1498.8 1066.0L1500.8 1065.7L1502.8 1065.8L1504.8 1065.8L1506.7 1065.3L1508.5 1065.5L1510.2 1065.5L1511.8 1065.6L1513.3 1064.8L1514.6 1065.1L1515.9 1064.9L1516.9 1064.8L1517.8 1065.1"/>
<path class="curve" stroke="#b034ff" stroke-width="5.6" d="M344.2 1024.6L344.8 1025.5L345.6 1026.8L346.6 1028.4L347.7 1029.9L348.8 1031.2L349.8 1032.5L350.9 1033.8L352.1 1035.0L353.5 1036.0L355.0 1037.3L356.2 1038.2L357.4 1039.2L358.8 1040.2L360.2 1041.1L361.7 1041.9L363.3 1042.7L365.0 1043.6L366.4 1044.3L367.8 1045.0L369.3 1045.6L370.8 1046.4L372.4 1046.7L374.1 1047.3L375.9 1048.0L377.9 1048.7L380.0 1049.1L381.3 1049.5L382.6 1050.0L384.1 1050.5L385.5 1050.8L387.1 1051.2L388.6 1051.6L390.2 1051.9L391.9 1052.4L393.5 1052.7L395.2 1053.1L396.9 1053.5L398.5 1053.6L400.2 1054.1L401.8 1054.5L403.4 1054.9L405.0 1055.0L406.7 1055.3L408.3 1055.6L409.9 1055.8L411.5 1055.8L413.1 1056.1L414.8 1056.1L416.4 1056.3L418.0 1056.5L419.6 1056.4L421.3 1056.5L423.0 1056.9L424.7 1056.8L426.4 1056.8L428.2 1056.9L430.0 1057.0L431.6 1057.0L433.2 1057.1L434.8 1057.0L436.5 1057.1L438.2 1057.1L440.0 1057.2L441.8 1057.2L443.5 1057.4L445.3 1057.2L447.1 1057.2L448.8 1057.2L450.6 1057.5L452.3 1057.3L453.9 1057.1L455.5 1057.0L457.1 1057.1L458.6 1057.0L460.0 1056.9L462.0 1056.8L463.9 1056.8L465.6 1056.7L467.2 1056.6L468.8 1056.4L470.3 1056.5L471.8 1056.4L473.3 1056.2L474.9 1055.9L476.5 1055.8L478.2 1055.7L480.0 1055.5L481.5 1055.2L483.1 1055.1L484.7 1055.0L486.3 1054.9L488.0 1054.8L489.6 1054.7L491.3 1054.8L493.0 1054.5L494.8 1054.3L496.5 1054.1L498.2 1053.8L499.9 1053.7L501.6 1053.5L503.3 1053.3L505.0 1053.1L506.6 1052.9L508.2 1052.5L509.8 1052.2L511.4 1051.8L513.0 1051.3L514.6 1050.9L516.2 1050.4L517.8 1050.1L519.4 1049.6L521.0 1049.1L522.6 1048.7L524.1 1048.3L525.6 1047.9L527.1 1047.2L528.6 1046.8L530.0 1046.3L531.7 1045.6L533.4 1045.1L535.1 1044.3L536.7 1043.5L538.3 1042.8L539.9 1042.0L541.4 1041.1L542.9 1040.3L544.4 1039.4L545.8 1038.7L547.2 1038.1L548.6 1037.0L550.0 1036.4L551.4 1035.5L552.8 1034.4L554.2 1033.2L555.6 1032.3L556.9 1031.3L558.1 1030.1L559.4 1029.2L560.6 1028.1L561.7 1027.0L562.8 1025.9L563.9 1024.7L565.0 1023.8L566.2 1022.4L567.4 1021.1L568.4 1019.9L569.5 1018.6L570.5 1017.2L571.4 1015.8L572.3 1014.3L573.2 1012.9L574.1 1011.5L575.0 1009.9L575.8 1008.6L576.5 1007.1L577.3 1005.7L578.0 1004.2L578.6 1002.6L579.3 1001.0L580.0 999.4L580.6 997.7L581.2 996.0L581.9 994.3L582.5 992.5L583.0 991.1L583.5 989.6L583.9 988.1L584.4 986.6L584.9 985.1L585.3 983.5L585.8 981.9L586.2 980.3L586.7 978.6L587.1 977.0L587.5 975.3L587.9 973.5L588.3 971.8L588.8 970.0L589.1 968.5L589.4 967.1L589.7 965.7L590.0 964.2L590.3 962.8L590.6 961.3L590.9 959.9L591.2 958.4L591.5 956.8L591.7 955.3L592.0 953.6L592.3 952.0L592.6 950.2L592.9 948.4L593.2 946.5L593.5 944.6L593.8 942.5L593.9 941.1L594.1 939.8L594.3 938.3L594.5 936.8L594.7 935.3L594.9 933.7L595.1 932.1L595.3 930.5L595.5 928.9L595.7 927.2L595.9 925.5L596.1 923.8L596.3 922.1L596.5 920.3L596.7 918.6L596.8 916.9L597.0 915.1L597.2 913.4L597.4 911.6L597.6 909.9L597.8 908.2L598.0 906.5L598.2 904.8L598.4 903.2L598.5 901.6L598.7 900.0L598.9 898.4L599.1 896.7L599.3 894.9L599.5 893.2L599.7 891.5L599.9 889.9L600.1 888.2L600.3 886.5L600.4 884.9L600.6 883.2L600.8 881.6L601.0 880.0L601.2 878.4L601.4 876.7L601.6 875.1L601.7 873.5L601.9 871.9L602.1 870.3L602.3 868.7L602.4 867.0L602.6 865.4L602.8 863.8L603.0 862.2L603.1 860.5L603.3 858.9L603.5 857.3L603.6 855.6L603.8 854.0L604.0 852.3L604.1 850.7L604.3 849.1L604.4 847.4L604.6 845.8L604.7 844.1L604.9 842.5L605.1 840.8L605.2 839.2L605.4 837.6L605.5 835.9L605.7 834.3L605.8 832.6L606.0 831.0L606.1 829.4L606.3 827.7L606.4 826.1L606.6 824.4L606.7 822.8L606.9 821.1L607.0 819.5L607.2 817.8L607.3 816.2L607.5 814.4L607.6 812.7L607.8 811.0L607.9 809.2L608.1 807.5L608.2 805.7L608.4 803.9L608.6 802.2L608.7 800.4L608.9 798.7L609.0 796.9L609.2 795.2L609.3 793.5L609.5 791.9L609.6 790.2L609.7 788.7L609.9 787.1L610.0 785.6L610.1 784.1L610.3 782.7L610.4 781.3L610.5 780.0L610.7 777.8L610.9 775.8L611.0 774.1L611.2 772.5L611.3 771.0L611.4 769.6L611.5 768.3L611.7 766.9L611.8 765.4L611.9 763.8L612.1 762.1L612.2 760.1L612.4 757.9L612.5 756.6L612.6 755.2L612.7 753.8L612.8 752.3L613.0 750.8L613.1 749.2L613.2 747.7L613.3 746.0L613.5 744.4L613.6 742.7L613.7 741.0L613.9 739.2L614.0 737.5L614.1 735.7L614.3 734.0L614.4 732.2L614.5 730.4L614.7 728.7L614.8 726.9L614.9 725.2L615.0 723.5L615.2 721.7L615.3 720.1L615.4 718.4L615.5 716.8L615.6 715.1L615.7 713.5L615.8 711.8L615.9 710.2L616.1 708.5L616.2 706.9L616.3 705.2L616.4 703.6L616.5 701.9L616.6 700.3L616.7 698.6L616.8 697.0L616.9 695.4L617.0 693.7L617.1 692.1L617.2 690.4L617.2 688.8L617.3 687.1L617.4 685.5L617.5 683.8L617.6 682.2L617.7 680.5L617.8 678.9L617.9 677.3L618.0 675.6L618.1 674.0L618.1 672.3L618.2 670.7L618.3 669.0L618.4 667.4L618.5 665.8L618.6 664.1L618.6 662.5L618.7 660.8L618.8 659.2L618.9 657.6L618.9 655.9L619.0 654.3L619.1 652.6L619.2 651.0L619.3 649.4L619.3 647.7L619.4 646.1L619.5 644.4L619.6 642.8L619.6 641.1L619.7 639.5L619.8 637.8L619.9 636.2L619.9 634.4L620.0 632.7L620.1 631.0L620.2 629.2L620.2 627.5L620.3 625.7L620.4 623.9L620.4 622.2L620.5 620.4L620.6 618.7L620.7 616.9L620.7 615.2L620.8 613.5L620.9 611.9L620.9 610.3L621.0 608.7L621.1 607.1L621.1 605.6L621.2 604.1L621.3 602.7L621.3 601.3L621.4 600.0L621.5 597.7L621.6 595.7L621.7 593.8L621.8 592.1L621.9 590.4L622.0 588.9L622.0 587.4L622.1 585.9L622.2 584.4L622.3 582.9L622.4 581.4L622.5 579.7L622.6 577.9L622.7 576.4L622.8 574.8L622.9 573.2L623.0 571.6L623.1 570.0L623.2 568.3L623.3 566.7L623.4 565.0L623.5 563.3L623.6 561.6L623.8 560.0L623.9 558.3L624.0 556.6L624.1 554.9L624.2 553.3L624.3 551.6L624.4 550.0L624.5 548.3L624.6 546.7L624.7 545.0L624.8 543.4L624.9 541.7L625.0 540.1L625.1 538.5L625.2 536.8L625.3 535.2L625.4 533.5L625.5 531.9L625.6 530.2L625.7 528.6L625.8 526.9L625.9 525.3L626.0 523.7L626.1 522.0L626.2 520.4L626.3 518.7L626.4 517.1L626.5 515.4L626.6 513.8L626.7 512.1L626.8 510.4L626.9 508.8L627.0 507.1L627.1 505.5L627.2 503.8L627.3 502.2L627.4 500.5L627.5 498.9L627.6 497.3L627.7 495.6L627.8 494.0L627.9 492.3L628.0 490.7L628.1 489.0L628.2 487.4L628.3 485.7L628.4 484.1L628.5 482.5L628.7 480.8L628.8 479.2L628.9 477.5L629.0 475.9L629.1 474.2L629.2 472.6L629.3 471.0L629.4 469.3L629.5 467.7L629.6 466.0L629.8 464.4L629.9 462.7L630.0 461.1L630.1 459.4L630.2 457.8L630.3 456.2L630.5 454.5L630.6 452.9L630.7 451.2L630.8 449.6L630.9 447.9L631.0 446.3L631.2 444.6L631.3 443.0L631.4 441.3L631.5 439.6L631.7 437.9L631.8 436.3L631.9 434.6L632.1 432.9L632.2 431.2L632.3 429.6L632.4 427.9L632.6 426.3L632.7 424.7L632.8 423.1L632.9 421.5L633.0 420.0L633.1 418.2L633.2 416.4L633.3 414.7L633.4 413.0L633.5 411.4L633.6 409.8L633.7 408.1L633.7 406.5L633.8 404.9L633.9 403.2L634.0 401.5L634.1 399.7L634.2 397.9L634.3 396.4L634.4 394.8L634.5 393.2L634.6 391.6L634.7 390.0L634.8 388.3L634.9 386.7L635.0 385.0L635.1 383.3L635.2 381.6L635.3 380.0L635.4 378.3L635.5 376.6L635.7 374.9L635.8 373.3L635.9 371.6L636.0 370.0L636.2 368.3L636.3 366.7L636.4 365.0L636.6 363.4L636.7 361.7L636.9 360.1L637.0 358.5L637.1 356.8L637.3 355.2L637.4 353.5L637.6 351.9L637.7 350.2L637.9 348.6L638.0 346.9L638.2 345.3L638.4 343.7L638.5 342.0L638.7 340.4L638.8 338.7L639.0 337.1L639.1 335.4L639.3 333.8L639.5 332.1L639.6 330.5L639.8 328.8L639.9 327.2L640.1 325.5L640.3 323.8L640.4 322.2L640.6 320.5L640.7 318.9L640.8 317.3L641.0 315.6L641.1 314.0L641.2 312.3L641.3 310.7L641.5 309.0L641.6 307.4L641.7 305.7L641.8 304.1L641.9 302.5L642.1 300.8L642.2 299.2L642.3 297.5L642.5 295.9L642.6 294.2L642.8 292.6L643.0 290.9L643.2 289.2L643.4 287.4L643.6 285.6L643.8 283.7L644.1 281.9L644.3 280.1L644.5 278.3L644.8 276.5L645.0 274.8L645.2 273.1L645.5 271.6L645.7 270.1L645.9 268.7L646.1 267.4L646.3 266.3L647.0 263.0L647.5 261.0L648.0 259.8L648.6 258.8L649.9 257.1L651.2 256.7L652.6 257.2L653.8 258.8L654.3 259.8L654.6 261.0L655.0 263.0L655.5 266.3L655.7 267.4L655.8 268.7L656.0 270.1L656.2 271.6L656.4 273.1L656.6 274.8L656.8 276.5L657.0 278.3L657.3 280.1L657.5 281.9L657.7 283.7L657.9 285.6L658.1 287.4L658.3 289.2L658.4 290.9L658.6 292.6L658.7 294.2L658.9 295.9L659.0 297.5L659.1 299.2L659.3 300.8L659.4 302.5L659.5 304.1L659.6 305.7L659.7 307.4L659.8 309.0L659.9 310.7L660.0 312.3L660.1 314.0L660.2 315.6L660.3 317.3L660.4 318.9L660.5 320.5L660.6 322.2L660.7 323.8L660.8 325.5L660.9 327.1L661.0 328.8L661.2 330.4L661.3 332.1L661.4 333.8L661.5 335.4L661.6 337.1L661.7 338.7L661.8 340.4L661.9 342.0L662.0 343.7L662.1 345.3L662.2 346.9L662.3 348.6L662.4 350.2L662.5 351.9L662.6 353.5L662.7 355.2L662.8 356.8L662.9 358.5L663.0 360.1L663.1 361.7L663.2 363.4L663.3 365.0L663.4 366.7L663.5 368.3L663.6 370.0L663.7 371.6L663.8 373.3L663.9 374.9L664.0 376.6L664.1 378.3L664.1 380.0L664.2 381.6L664.3 383.3L664.4 385.0L664.5 386.7L664.6 388.3L664.6 390.0L664.7 391.6L664.8 393.2L664.9 394.8L664.9 396.4L665.0 397.9L665.1 399.7L665.1 401.5L665.2 403.2L665.3 404.9L665.3 406.5L665.4 408.1L665.4 409.8L665.5 411.4L665.5 413.0L665.6 414.7L665.7 416.4L665.7 418.2L665.8 420.0L665.9 421.5L665.9 423.1L666.0 424.7L666.1 426.3L666.1 427.9L666.2 429.6L666.3 431.2L666.4 432.9L666.4 434.6L666.5 436.3L666.6 437.9L666.7 439.6L666.8 441.3L666.8 443.0L666.9 444.6L667.0 446.3L667.1 447.9L667.2 449.6L667.2 451.2L667.3 452.9L667.4 454.5L667.5 456.2L667.6 457.8L667.6 459.5L667.7 461.1L667.8 462.7L667.9 464.4L668.0 466.0L668.1 467.7L668.1 469.3L668.2 471.0L668.3 472.6L668.4 474.2L668.5 475.9L668.5 477.5L668.6 479.2L668.7 480.8L668.8 482.5L668.9 484.1L669.0 485.7L669.0 487.4L669.1 489.0L669.2 490.7L669.3 492.3L669.4 494.0L669.4 495.6L669.5 497.3L669.6 498.9L669.7 500.5L669.8 502.2L669.8 503.8L669.9 505.5L670.0 507.1L670.1 508.8L670.2 510.4L670.2 512.1L670.3 513.8L670.4 515.4L670.5 517.1L670.6 518.7L670.6 520.4L670.7 522.0L670.8 523.7L670.9 525.3L671.0 526.9L671.1 528.6L671.2 530.2L671.3 531.9L671.4 533.5L671.5 535.2L671.6 536.8L671.7 538.5L671.8 540.1L671.9 541.7L672.0 543.4L672.1 545.0L672.2 546.7L672.3 548.3L672.4 550.0L672.5 551.6L672.6 553.3L672.7 554.9L672.8 556.6L672.9 558.3L672.9 560.0L673.0 561.6L673.1 563.3L673.2 565.0L673.3 566.7L673.3 568.3L673.4 570.0L673.5 571.6L673.6 573.2L673.7 574.8L673.8 576.4L673.9 577.9L674.0 579.7L674.2 581.4L674.3 582.9L674.4 584.4L674.5 585.9L674.7 587.4L674.8 588.9L675.0 590.4L675.1 592.1L675.3 593.8L675.4 595.7L675.6 597.7L675.8 600.0L675.9 601.3L676.0 602.7L676.1 604.1L676.2 605.6L676.4 607.1L676.5 608.7L676.6 610.3L676.7 611.9L676.8 613.5L677.0 615.2L677.1 616.9L677.2 618.7L677.4 620.4L677.5 622.2L677.6 623.9L677.8 625.7L677.9 627.5L678.0 629.2L678.2 631.0L678.3 632.7L678.4 634.4L678.5 636.2L678.7 637.8L678.8 639.5L678.9 641.1L679.0 642.8L679.2 644.4L679.3 646.1L679.4 647.7L679.5 649.4L679.7 651.0L679.8 652.6L679.9 654.3L680.0 655.9L680.1 657.6L680.3 659.2L680.4 660.8L680.5 662.5L680.6 664.1L680.8 665.8L680.9 667.4L681.0 669.0L681.1 670.7L681.3 672.3L681.4 674.0L681.5 675.6L681.7 677.3L681.8 678.9L681.9 680.5L682.1 682.2L682.2 683.8L682.4 685.5L682.5 687.1L682.7 688.8L682.8 690.4L682.9 692.1L683.1 693.7L683.2 695.4L683.4 697.0L683.5 698.6L683.7 700.3L683.8 701.9L684.0 703.6L684.2 705.2L684.3 706.9L684.5 708.5L684.6 710.2L684.8 711.8L684.9 713.5L685.1 715.1L685.2 716.8L685.4 718.4L685.6 720.1L685.7 721.8L685.9 723.5L686.1 725.2L686.2 726.9L686.4 728.7L686.6 730.5L686.7 732.2L686.9 734.0L687.1 735.7L687.3 737.5L687.4 739.2L687.6 741.0L687.8 742.7L688.0 744.4L688.1 746.0L688.3 747.7L688.5 749.3L688.6 750.8L688.8 752.3L688.9 753.8L689.0 755.2L689.2 756.6L689.3 757.9L689.5 760.1L689.7 762.1L689.9 763.8L690.0 765.4L690.1 766.9L690.2 768.3L690.4 769.6L690.5 771.0L690.6 772.5L690.8 774.1L690.9 775.8L691.1 777.8L691.3 780.0L691.4 781.3L691.6 782.7L691.7 784.1L691.8 785.6L692.0 787.1L692.1 788.7L692.3 790.3L692.5 791.9L692.6 793.5L692.8 795.2L693.0 796.9L693.2 798.7L693.3 800.4L693.5 802.2L693.7 803.9L693.8 805.7L694.0 807.5L694.2 809.2L694.3 811.0L694.5 812.7L694.7 814.5L694.8 816.2L695.0 817.8L695.1 819.5L695.2 821.1L695.4 822.8L695.5 824.4L695.6 826.1L695.8 827.7L695.9 829.4L696.0 831.0L696.1 832.6L696.2 834.3L696.3 835.9L696.5 837.6L696.6 839.2L696.7 840.8L696.8 842.5L696.9 844.1L697.0 845.8L697.1 847.4L697.2 849.0L697.3 850.7L697.5 852.3L697.6 854.0L697.7 855.6L697.8 857.3L697.9 858.9L698.0 860.5L698.1 862.2L698.2 863.8L698.3 865.5L698.5 867.1L698.6 868.8L698.7 870.4L698.8 872.1L698.9 873.7L699.0 875.4L699.1 877.0L699.2 878.6L699.3 880.3L699.4 881.9L699.5 883.6L699.6 885.2L699.8 886.9L699.9 888.5L700.0 890.2L700.1 891.8L700.2 893.5L700.3 895.1L700.4 896.8L700.5 898.4L700.6 900.1L700.7 901.7L700.8 903.4L700.9 905.2L701.1 906.9L701.2 908.6L701.3 910.4L701.4 912.1L701.5 913.9L701.6 915.6L701.8 917.4L701.9 919.1L702.0 920.8L702.1 922.5L702.2 924.2L702.3 925.8L702.4 927.5L702.5 929.1L702.6 930.6L702.7 932.2L702.8 933.7L702.9 935.1L702.9 936.5L703.0 937.9L703.1 939.9L703.2 941.8L703.2 943.6L703.3 945.2L703.3 946.7L703.3 948.2L703.4 949.6L703.4 951.0L703.4 952.4L703.4 953.9L703.5 955.4L703.5 957.0L703.6 958.7L703.7 960.5L703.8 962.5L703.8 963.9L703.9 965.3L704.0 966.8L704.1 968.4L704.2 969.9L704.2 971.6L704.3 973.2L704.4 974.9L704.5 976.6L704.6 978.3L704.8 980.0L704.9 981.8L705.0 983.5L705.1 985.3L705.2 987.0L705.3 988.7L705.5 990.4L705.6 992.1L705.7 993.8L705.8 995.4L706.0 997.0L706.1 998.5L706.2 1000.0L706.4 1001.9L706.6 1003.7L706.8 1005.5L707.0 1007.4L707.2 1009.2L707.4 1010.9L707.6 1012.7L707.8 1014.4L708.0 1016.1L708.2 1017.8L708.4 1019.4L708.6 1021.0L708.8 1022.6L709.1 1024.2L709.3 1025.7L709.5 1027.1L709.8 1028.6L710.0 1030.0L710.4 1032.1L710.8 1034.0L711.2 1035.9L711.6 1037.8L712.0 1039.6L712.4 1041.2L712.9 1042.9L713.3 1044.5L713.7 1046.0L714.2 1047.4L714.6 1048.7L715.0 1049.8L715.8 1052.3L716.6 1054.1L717.3 1055.6L718.1 1057.1L719.0 1058.2L720.0 1059.8L721.3 1061.7L722.7 1062.8L724.2 1063.6L725.8 1064.6L727.5 1065.6L729.1 1066.3L730.9 1066.7L732.8 1067.7L734.6 1067.9L736.2 1067.8L737.5 1068.5L740.0 1067.4L741.0 1068.2L742.2 1068.3L743.6 1068.0L745.1 1068.0L746.7 1068.2L748.4 1068.7L750.2 1068.9L752.0 1069.2L753.9 1069.4L755.8 1068.9L757.7 1069.4L759.6 1069.2L761.5 1069.8L763.3 1069.7L765.0 1070.5L766.7 1070.3L768.4 1070.1L770.1 1069.9L771.9 1070.3L773.6 1070.7L775.4 1071.2L777.2 1071.4L778.9 1071.9L780.6 1072.4L782.3 1071.9L783.9 1072.0L785.5 1072.0L787.1 1072.1L788.6 1072.5L790.0 1072.6L792.1 1072.7L794.1 1072.3L796.0 1072.7L797.9 1073.2L799.7 1073.1L801.3 1072.5L802.9 1073.3L804.2 1073.5L805.5 1072.5L806.5 1073.1L808.3 1071.7L808.5 1069.5L808.8 1068.0L809.3 1069.4L809.9 1071.8L811.0 1073.9L812.5 1075.0L814.5 1075.5L816.5 1076.2L818.0 1076.3L819.0 1078.2L819.5 1080.3L820.0 1081.1L820.1 1080.3L820.1 1078.1L822.0 1076.4L823.0 1075.9L824.2 1076.1L825.6 1075.7L827.1 1076.2L828.7 1076.1L830.4 1076.0L832.3 1076.2L834.2 1076.4L836.1 1075.8L838.0 1076.4L840.0 1076.5L841.5 1076.4L843.0 1076.2L844.6 1076.1L846.2 1076.1L847.8 1076.2L849.5 1076.3L851.2 1075.9L852.9 1075.6L854.7 1076.4L856.4 1075.8L858.2 1075.4L859.9 1075.7L861.6 1074.9L863.3 1075.6L865.0 1074.9L866.7 1074.7L868.3 1074.8L870.0 1074.5L871.7 1074.1L873.3 1073.4L875.0 1073.5L876.7 1073.0L878.3 1073.0L880.0 1072.7L881.7 1073.1L883.3 1072.1L885.0 1072.5L886.7 1072.8L888.3 1071.9L890.0 1072.0L891.7 1072.2L893.3 1072.2L895.0 1071.9L896.7 1071.6L898.3 1071.1L900.0 1070.4L901.7 1070.1L903.3 1069.9L905.0 1069.1L906.7 1068.8L908.3 1068.1L910.0 1067.6L911.7 1068.6L913.3 1067.9L915.0 1068.1L916.7 1067.6L918.3 1067.0L920.0 1066.6L921.7 1066.7L923.3 1066.0L925.0 1066.0L926.7 1065.8L928.3 1065.0L930.0 1065.3L931.7 1064.5L933.3 1064.7L935.0 1064.5L936.7 1064.5L938.3 1064.2L940.0 1064.4L941.7 1063.9L943.3 1063.0L945.0 1063.1L946.7 1062.6L948.3 1062.2L950.0 1062.8L951.7 1062.3L953.3 1061.9L955.0 1062.1L956.7 1062.5L958.3 1061.9L960.0 1062.0L961.7 1062.2L963.3 1062.1L965.0 1061.6L966.7 1061.1L968.3 1061.6L970.0 1060.4L971.7 1061.6L973.3 1061.9L975.0 1061.9L976.7 1061.6L978.3 1061.3L980.0 1061.4L981.7 1062.1L983.3 1062.6L985.0 1062.3L986.7 1062.1L988.3 1062.0L990.0 1062.3L991.7 1062.0L993.3 1062.9L995.0 1062.8L996.7 1062.9L998.3 1062.3L1000.0 1062.1L1001.7 1062.7L1003.3 1061.9L1005.0 1062.0L1006.7 1061.9L1008.3 1061.5L1010.0 1061.3L1011.7 1060.7L1013.3 1060.6L1015.0 1061.2L1016.7 1060.6L1018.3 1060.9L1020.0 1060.6L1021.7 1059.8L1023.3 1059.9L1025.0 1059.4L1026.7 1059.9L1028.3 1060.2L1030.0 1060.2L1031.7 1060.0L1033.3 1059.8L1035.0 1059.6L1036.7 1059.7L1038.3 1059.6L1040.0 1059.6L1041.7 1058.5L1043.3 1058.5L1045.0 1058.2L1046.7 1058.3L1048.3 1058.0L1050.0 1057.7L1051.7 1058.1L1053.3 1058.2L1055.0 1057.9L1056.7 1057.8L1058.3 1058.2L1060.0 1057.5L1061.7 1057.8L1063.3 1057.5L1065.0 1058.0L1066.7 1057.9L1068.3 1057.6L1070.0 1057.3L1071.7 1057.2L1073.3 1057.1L1075.0 1057.4L1076.7 1057.7L1078.3 1057.6L1080.0 1058.0L1081.7 1058.6L1083.3 1058.1L1085.0 1058.6L1086.7 1058.6L1088.3 1058.6L1090.0 1059.0L1091.7 1059.1L1093.3 1058.3L1095.0 1058.8L1096.7 1058.9L1098.3 1059.5L1100.0 1060.0L1101.7 1059.8L1103.3 1060.1L1105.0 1060.1L1106.7 1060.9L1108.3 1060.7L1110.0 1061.6L1111.7 1061.5L1113.3 1062.1L1115.0 1062.5L1116.7 1062.3L1118.4 1062.6L1120.1 1062.7L1121.8 1062.7L1123.5 1063.5L1125.2 1064.1L1127.0 1064.2L1128.7 1065.0L1130.4 1065.4L1132.0 1065.8L1133.7 1065.8L1135.3 1065.9L1136.9 1066.5L1138.5 1066.8L1140.0 1067.3L1141.9 1067.9L1143.7 1068.3L1145.5 1068.8L1147.3 1068.6L1149.1 1069.4L1150.8 1069.4L1152.5 1069.9L1154.1 1069.7L1155.6 1070.3L1157.2 1070.9L1158.6 1070.9L1160.0 1070.4L1162.1 1071.0L1163.8 1071.7L1165.2 1071.2L1166.7 1071.2L1168.2 1072.0L1170.1 1072.6L1172.5 1072.9L1173.8 1072.6L1175.2 1073.1L1176.7 1072.9L1178.3 1073.4L1179.9 1073.6L1181.6 1072.9L1183.3 1073.3L1185.1 1074.2L1186.9 1074.3L1188.7 1074.7L1190.5 1074.7L1192.3 1075.4L1194.1 1075.4L1195.8 1075.0L1197.5 1075.9L1199.2 1075.8L1200.8 1075.9L1202.5 1076.1L1204.2 1076.8L1205.8 1077.0L1207.5 1076.9L1209.2 1077.4L1210.8 1077.2L1212.5 1076.8L1214.2 1077.0L1215.8 1077.9L1217.5 1077.9L1219.2 1077.9L1220.8 1078.1L1222.5 1078.9L1224.1 1078.8L1225.7 1078.9L1227.3 1078.0L1228.8 1078.9L1230.4 1079.3L1231.9 1079.2L1233.4 1079.1L1235.0 1078.8L1236.6 1079.3L1238.2 1079.1L1239.9 1079.0L1241.7 1079.6L1243.5 1079.2L1245.5 1078.9L1247.5 1079.1L1248.9 1079.2L1250.3 1079.1L1251.7 1079.6L1253.1 1079.1L1254.6 1078.8L1256.1 1079.0L1257.6 1079.9L1259.1 1080.1L1260.7 1080.4L1262.3 1079.8L1263.9 1079.5L1265.5 1079.8L1267.2 1079.5L1268.8 1079.9L1270.5 1080.2L1272.3 1080.6L1274.0 1079.9L1275.8 1080.1L1277.6 1080.0L1279.4 1080.5L1281.2 1080.4L1283.1 1080.5L1285.0 1080.0L1286.4 1080.5L1287.9 1080.6L1289.3 1080.4L1290.8 1080.5L1292.4 1080.7L1293.9 1081.1L1295.4 1080.8L1297.0 1080.4L1298.6 1080.6L1300.2 1080.7L1301.8 1080.4L1303.4 1081.0L1305.1 1081.0L1306.7 1080.5L1308.4 1080.6L1310.1 1080.5L1311.7 1080.5L1313.4 1080.4L1315.1 1080.8L1316.8 1080.1L1318.4 1080.0L1320.1 1079.9L1321.8 1080.8L1323.5 1080.9L1325.1 1080.4L1326.8 1080.0L1328.5 1080.1L1330.1 1080.1L1331.7 1079.8L1333.4 1079.5L1335.0 1079.7L1336.6 1079.3L1338.2 1079.6L1339.9 1079.6L1341.5 1079.7L1343.1 1080.5L1344.8 1080.4L1346.4 1080.2L1348.0 1079.4L1349.7 1080.0L1351.3 1080.2L1352.9 1080.5L1354.6 1079.6L1356.2 1079.1L1357.9 1079.7L1359.5 1080.1L1361.1 1080.0L1362.8 1079.6L1364.4 1079.7L1366.0 1079.6L1367.6 1080.3L1369.2 1080.0L1370.8 1080.0L1372.5 1080.0L1374.0 1079.9L1375.6 1079.7L1377.2 1079.6L1378.8 1079.8L1380.4 1079.5L1381.9 1079.5L1383.5 1079.9L1385.0 1080.1L1386.7 1080.1L1388.4 1079.3L1390.0 1078.7L1391.6 1079.0L1393.3 1078.8L1394.9 1079.2L1396.5 1080.1L1398.1 1079.6L1399.7 1080.0L1401.2 1079.3L1402.8 1079.3L1404.4 1079.8L1405.9 1080.5L1407.5 1080.3L1409.1 1080.9L1410.6 1081.1L1412.2 1080.4L1413.8 1080.5L1415.3 1081.2L1416.9 1081.2L1418.5 1080.6L1420.1 1080.8L1421.7 1081.1L1423.4 1081.0L1425.0 1080.5L1426.6 1080.6L1428.3 1080.5L1430.0 1081.0L1431.5 1080.3L1433.1 1080.7L1434.7 1080.4L1436.3 1080.4L1437.9 1080.8L1439.5 1081.0L1441.2 1080.6L1442.8 1080.9L1444.5 1080.8L1446.2 1081.2L1447.9 1080.6L1449.5 1080.7L1451.2 1080.4L1452.9 1080.7L1454.6 1080.3L1456.3 1080.0L1458.0 1079.8L1459.6 1080.0L1461.3 1080.4L1463.0 1080.2L1464.6 1079.9L1466.2 1079.6L1467.8 1079.8L1469.4 1079.8L1471.0 1080.1L1472.6 1079.6L1474.1 1079.7L1475.6 1079.9L1477.1 1080.0L1478.6 1080.0L1480.0 1079.9L1481.9 1080.1L1483.9 1079.7L1485.8 1079.5L1487.8 1079.2L1489.7 1079.3L1491.7 1078.6L1493.6 1079.0L1495.6 1079.4L1497.4 1080.0L1499.3 1079.7L1501.1 1079.5L1502.9 1078.3L1504.7 1077.4L1506.3 1078.1L1508.0 1077.9L1509.5 1078.0L1511.0 1078.1L1512.4 1077.8L1513.7 1078.5L1514.9 1078.5L1516.0 1078.4L1517.0 1078.1L1517.8 1078.6"/>
<path class="curve" stroke="#058a05" stroke-width="5.5" d="M343.0 1032.4L343.8 1033.1L344.9 1034.0L346.1 1034.9L347.5 1036.0L349.0 1037.2L350.5 1038.3L352.1 1039.4L353.6 1040.5L355.0 1041.5L356.5 1042.4L358.1 1042.9L359.7 1043.4L361.2 1044.2L362.8 1044.6L364.4 1045.0L365.9 1045.9L367.5 1046.5L369.0 1046.8L370.3 1047.2L371.6 1047.8L373.0 1048.2L374.4 1048.7L376.0 1049.1L377.8 1049.2L380.0 1049.5L381.3 1050.2L382.7 1050.6L384.2 1050.5L385.8 1051.1L387.4 1051.5L389.1 1051.9L390.8 1052.2L392.6 1052.5L394.4 1052.7L396.2 1052.7L398.0 1053.2L399.8 1053.6L401.6 1053.9L403.3 1053.9L405.0 1054.3L406.7 1054.5L408.3 1055.0L410.0 1055.0L411.7 1055.2L413.3 1055.4L415.0 1055.8L416.7 1056.2L418.3 1056.4L420.0 1056.3L421.7 1056.4L423.3 1057.0L425.0 1057.1L426.7 1057.2L428.3 1057.4L430.0 1057.6L431.7 1058.0L433.3 1058.0L435.0 1057.9L436.7 1057.9L438.3 1058.3L440.0 1058.3L441.7 1058.5L443.3 1058.6L445.0 1058.5L446.7 1059.0L448.3 1058.9L450.0 1058.9L451.7 1059.0L453.3 1059.1L455.0 1059.2L456.7 1059.3L458.3 1059.5L460.0 1059.8L461.7 1059.9L463.3 1059.6L465.0 1059.7L466.7 1060.0L468.3 1060.0L470.0 1060.1L471.7 1060.1L473.3 1060.4L475.0 1060.3L476.7 1060.3L478.3 1060.6L480.0 1060.3L481.7 1060.4L483.3 1061.1L485.0 1060.9L486.7 1061.0L488.3 1060.7L490.0 1060.9L491.7 1060.9L493.3 1061.0L495.0 1061.1L496.7 1061.4L498.3 1061.5L500.0 1061.8L501.7 1061.4L503.3 1061.6L505.0 1062.0L506.7 1062.2L508.3 1062.5L510.0 1062.4L511.7 1062.6L513.3 1062.7L515.0 1062.5L516.7 1062.4L518.3 1063.1L520.0 1063.3L521.7 1063.3L523.3 1063.2L525.0 1063.0L526.7 1063.3L528.3 1063.5L530.0 1064.0L531.7 1063.9L533.3 1064.0L535.0 1064.1L536.7 1064.4L538.3 1064.7L540.0 1064.9L541.7 1064.7L543.3 1064.9L545.0 1064.7L546.7 1064.7L548.3 1064.8L550.0 1065.2L551.7 1064.9L553.3 1065.2L555.0 1065.8L556.7 1066.0L558.3 1066.2L560.0 1066.0L561.7 1066.2L563.3 1066.2L565.0 1066.7L566.7 1066.7L568.3 1066.8L570.0 1066.8L571.7 1067.1L573.3 1067.6L575.0 1067.6L576.7 1067.7L578.3 1067.8L580.0 1068.2L581.7 1068.2L583.3 1068.4L585.0 1068.5L586.7 1068.6L588.3 1068.9L590.0 1069.1L591.7 1068.8L593.3 1069.1L595.0 1069.2L596.7 1069.4L598.3 1069.8L600.0 1069.6L601.7 1069.6L603.3 1069.6L605.0 1069.8L606.7 1070.2L608.3 1070.2L609.9 1070.6L611.5 1070.6L613.1 1070.6L614.8 1070.7L616.4 1070.7L618.0 1070.9L619.6 1071.0L621.3 1070.8L623.0 1070.9L624.7 1071.2L626.4 1071.3L628.2 1071.0L630.0 1071.5L631.6 1071.8L633.1 1071.5L634.8 1071.6L636.4 1071.8L638.1 1071.9L639.8 1072.0L641.5 1071.6L643.3 1071.9L645.0 1071.9L646.7 1071.8L648.5 1072.0L650.2 1072.2L651.9 1072.3L653.6 1072.0L655.2 1072.1L656.9 1071.9L658.4 1072.2L660.0 1072.1L661.8 1072.1L663.6 1072.5L665.3 1072.6L667.0 1072.5L668.7 1072.8L670.4 1073.2L672.0 1072.8L673.6 1073.0L675.2 1073.2L676.9 1073.3L678.5 1073.4L680.1 1073.7L681.7 1073.8L683.3 1073.8L685.0 1074.0L686.6 1073.9L688.1 1074.3L689.6 1074.2L691.0 1074.1L692.4 1074.3L693.8 1074.2L695.2 1074.1L696.7 1074.2L698.2 1074.7L699.8 1074.8L701.5 1074.7L703.4 1074.7L705.4 1074.8L707.6 1074.8L710.0 1074.9L711.3 1074.8L712.6 1074.7L714.0 1074.8L715.5 1075.2L717.0 1075.3L718.6 1075.3L720.3 1075.3L722.0 1075.2L723.7 1075.4L725.5 1075.4L727.3 1075.4L729.1 1075.5L731.0 1075.5L732.8 1075.9L734.7 1075.6L736.6 1075.6L738.4 1075.7L740.2 1075.7L742.0 1076.1L743.8 1076.0L745.6 1075.6L747.3 1075.6L749.0 1075.3L750.6 1075.7L752.1 1075.8L753.6 1076.0L755.1 1076.1L756.4 1075.9L757.7 1076.0L758.9 1076.0L760.0 1076.3L763.2 1076.2L765.7 1076.0L767.6 1075.8L769.1 1075.8L770.3 1075.4L771.3 1075.3L772.3 1075.2L773.5 1075.0L775.0 1075.2L776.6 1074.8L778.1 1075.2L779.6 1074.8L781.1 1074.7L782.6 1075.2L784.3 1074.7L786.0 1074.5L787.9 1074.5L790.0 1074.1L791.4 1074.2L792.8 1074.3L794.4 1074.5L795.9 1074.3L797.6 1074.4L799.3 1074.4L801.0 1074.1L802.8 1074.3L804.5 1074.3L806.3 1074.1L808.1 1074.0L809.8 1074.0L811.6 1073.9L813.3 1073.8L815.0 1073.6L816.7 1073.7L818.3 1073.6L820.0 1073.6L821.7 1073.6L823.3 1073.2L825.0 1073.2L826.7 1073.0L828.3 1073.0L830.0 1072.7L831.7 1072.9L833.3 1072.4L835.0 1072.3L836.7 1072.3L838.3 1072.2L840.0 1072.0L841.7 1071.6L843.3 1071.3L845.0 1071.0L846.7 1071.1L848.3 1071.4L850.0 1071.1L851.7 1071.2L853.3 1071.0L855.0 1070.6L856.7 1070.0L858.3 1069.7L860.0 1069.7L861.7 1069.7L863.3 1069.9L865.0 1069.5L866.7 1069.2L868.3 1069.2L870.0 1069.5L871.7 1069.4L873.3 1068.9L875.0 1069.0L876.7 1067.8L878.3 1067.8L880.0 1067.9L881.7 1067.4L883.3 1066.9L885.0 1067.1L886.7 1066.9L888.3 1066.6L890.0 1066.6L891.7 1066.2L893.3 1066.1L895.0 1064.4L896.7 1065.0L898.3 1063.9L900.0 1064.4L901.7 1064.3L903.3 1064.1L905.0 1063.6L906.7 1063.2L908.3 1063.1L910.0 1062.1L911.7 1062.5L913.3 1061.9L915.0 1061.3L916.6 1061.3L918.1 1060.5L919.7 1060.0L921.2 1059.9L922.8 1059.3L924.4 1058.4L925.9 1057.9L927.5 1057.5L929.1 1057.0L930.6 1056.6L932.2 1055.7L933.8 1056.0L935.3 1054.9L936.9 1053.7L938.4 1054.3L940.0 1054.0L941.6 1053.5L943.1 1053.2L944.7 1053.1L946.2 1052.0L947.8 1052.2L949.4 1051.5L950.9 1051.2L952.5 1051.0L954.1 1050.2L955.6 1049.1L957.2 1048.8L958.8 1047.9L960.3 1048.4L961.9 1048.2L963.4 1047.4L965.0 1047.9L966.7 1047.7L968.3 1047.1L970.0 1047.1L971.7 1047.0L973.3 1045.5L975.0 1045.0L976.7 1044.7L978.3 1044.9L980.0 1044.5L981.7 1044.2L983.3 1043.2L985.0 1042.5L986.7 1042.9L988.3 1042.8L990.0 1042.7L991.7 1041.5L993.3 1042.5L995.0 1041.8L996.7 1042.0L998.3 1040.8L1000.0 1040.8L1001.7 1041.2L1003.3 1040.8L1005.0 1040.1L1006.7 1040.4L1008.3 1040.4L1010.0 1040.9L1011.7 1040.0L1013.3 1040.1L1015.0 1039.2L1016.7 1039.5L1018.4 1039.0L1020.2 1039.1L1022.0 1039.4L1023.8 1039.0L1025.5 1038.6L1027.3 1038.0L1029.1 1037.7L1030.8 1037.5L1032.5 1037.7L1034.1 1037.7L1035.7 1037.1L1037.2 1036.3L1038.7 1036.5L1040.0 1035.9L1042.3 1035.4L1044.5 1034.8L1046.5 1035.5L1048.3 1035.4L1050.0 1034.6L1051.4 1034.7L1052.7 1034.2L1053.8 1034.2L1055.0 1032.4L1055.4 1030.4L1055.3 1028.3L1055.5 1027.4L1055.9 1028.4L1056.2 1030.3L1056.6 1032.4L1057.5 1033.6L1059.0 1033.7L1061.0 1034.2L1063.0 1032.6L1064.5 1032.6L1065.2 1033.8L1065.5 1035.8L1065.7 1038.0L1065.9 1039.8L1066.2 1040.4L1066.6 1039.7L1066.9 1038.3L1067.3 1036.2L1067.8 1034.1L1068.8 1032.5L1070.0 1031.5L1071.6 1030.6L1073.4 1029.6L1075.4 1029.7L1077.5 1028.6L1079.1 1027.8L1080.8 1028.2L1082.6 1027.8L1084.4 1026.5L1086.3 1026.9L1088.2 1026.9L1090.0 1026.0L1091.8 1025.7L1093.6 1025.7L1095.4 1025.8L1097.1 1025.9L1098.9 1024.9L1100.7 1025.1L1102.5 1025.4L1104.3 1025.3L1106.1 1025.5L1107.9 1024.8L1109.6 1025.1L1111.4 1025.5L1113.2 1025.2L1115.0 1025.5L1116.8 1025.1L1118.6 1025.5L1120.4 1026.0L1122.1 1027.0L1123.9 1027.5L1125.7 1027.5L1127.5 1028.1L1129.1 1028.5L1130.6 1028.9L1132.2 1029.2L1133.8 1029.7L1135.3 1030.3L1136.9 1031.5L1138.4 1032.9L1140.0 1033.0L1141.6 1033.9L1143.2 1034.2L1144.9 1034.5L1146.6 1034.8L1148.2 1035.0L1149.7 1036.1L1151.2 1036.0L1152.5 1036.3L1154.3 1036.2L1155.5 1036.6L1157.0 1037.7L1160.0 1038.4L1161.1 1038.7L1162.3 1039.4L1163.6 1040.1L1165.0 1040.2L1166.5 1040.7L1168.1 1040.8L1169.7 1040.9L1171.4 1041.5L1173.1 1042.1L1174.9 1042.3L1176.6 1043.1L1178.3 1044.2L1180.1 1044.7L1181.8 1044.8L1183.4 1044.3L1185.0 1044.7L1186.7 1045.6L1188.3 1046.1L1190.0 1046.4L1191.7 1046.7L1193.3 1047.9L1195.0 1048.9L1196.7 1048.3L1198.3 1047.8L1200.0 1049.3L1201.7 1048.2L1203.3 1048.2L1205.0 1048.7L1206.7 1049.5L1208.3 1050.3L1210.0 1050.6L1211.7 1051.2L1213.3 1051.5L1215.0 1051.3L1216.7 1050.9L1218.3 1052.2L1220.0 1052.3L1221.7 1052.4L1223.3 1052.8L1225.0 1052.7L1226.7 1053.8L1228.3 1054.1L1230.0 1054.4L1231.7 1054.8L1233.3 1054.9L1235.0 1055.4L1236.7 1055.7L1238.3 1055.8L1240.0 1057.3L1241.7 1056.6L1243.3 1056.8L1245.0 1056.8L1246.7 1056.5L1248.3 1056.5L1250.0 1057.0L1251.7 1057.1L1253.3 1057.0L1255.0 1057.0L1256.7 1057.1L1258.3 1057.1L1260.0 1057.0L1261.7 1057.0L1263.3 1057.2L1265.0 1057.8L1266.7 1057.9L1268.3 1058.2L1270.0 1058.0L1271.7 1058.0L1273.3 1058.9L1275.0 1058.3L1276.7 1058.5L1278.3 1058.7L1280.0 1058.7L1281.7 1059.1L1283.3 1059.0L1285.0 1059.1L1286.7 1059.0L1288.3 1059.1L1290.0 1058.8L1291.7 1058.8L1293.3 1058.9L1295.0 1059.1L1296.7 1059.2L1298.3 1059.1L1300.0 1059.2L1301.7 1059.3L1303.3 1059.1L1305.0 1058.9L1306.7 1059.1L1308.3 1059.1L1310.0 1059.4L1311.7 1058.8L1313.3 1058.9L1315.0 1059.2L1316.7 1059.1L1318.3 1058.6L1320.0 1058.8L1321.7 1058.8L1323.3 1059.0L1325.0 1058.9L1326.7 1058.9L1328.3 1059.1L1330.0 1058.8L1331.7 1058.9L1333.3 1058.9L1335.0 1059.0L1336.7 1058.7L1338.3 1058.7L1340.0 1058.4L1341.7 1058.5L1343.3 1058.6L1345.0 1058.5L1346.7 1058.4L1348.3 1058.3L1350.0 1058.4L1351.7 1058.2L1353.3 1057.6L1355.0 1057.7L1356.7 1058.2L1358.3 1058.0L1360.0 1058.0L1361.7 1057.9L1363.3 1058.1L1365.0 1057.6L1366.7 1057.7L1368.3 1057.6L1370.0 1057.6L1371.7 1057.7L1373.3 1057.4L1375.0 1057.6L1376.7 1057.7L1378.3 1057.6L1380.0 1057.6L1381.7 1057.4L1383.3 1057.2L1385.0 1057.2L1386.7 1057.1L1388.4 1056.8L1390.1 1056.8L1391.8 1056.8L1393.5 1056.7L1395.2 1056.9L1397.0 1057.3L1398.7 1056.3L1400.4 1056.6L1402.0 1057.0L1403.7 1056.8L1405.3 1056.5L1406.9 1056.2L1408.5 1056.5L1410.0 1056.7L1411.8 1056.5L1413.5 1056.7L1415.0 1056.6L1416.5 1056.5L1418.0 1056.5L1419.5 1056.3L1421.0 1056.2L1422.5 1056.3L1424.2 1056.1L1426.0 1056.2L1427.9 1056.2L1430.0 1056.4L1431.4 1056.2L1432.8 1056.2L1434.3 1056.1L1435.8 1056.3L1437.4 1056.0L1439.0 1056.2L1440.7 1056.1L1442.4 1055.7L1444.1 1055.8L1445.8 1055.7L1447.6 1055.5L1449.4 1055.4L1451.1 1055.3L1452.9 1055.6L1454.7 1055.1L1456.5 1055.3L1458.2 1055.1L1459.9 1055.3L1461.7 1055.2L1463.3 1055.2L1465.0 1055.1L1466.7 1054.7L1468.4 1054.6L1470.2 1054.1L1472.0 1054.1L1473.7 1054.3L1475.5 1053.9L1477.3 1054.1L1479.0 1054.1L1480.8 1054.4L1482.5 1054.2L1484.2 1054.1L1485.9 1054.0L1487.6 1054.0L1489.2 1054.0L1490.8 1054.0L1492.3 1054.0L1493.8 1053.7L1495.3 1053.9L1496.7 1053.6L1498.8 1053.6L1500.8 1053.3L1502.8 1053.4L1504.8 1053.6L1506.7 1052.9L1508.5 1052.9L1510.2 1053.1L1511.8 1052.7L1513.3 1052.8L1514.6 1052.6L1515.9 1052.7L1516.9 1052.7L1517.8 1052.5"/>
</g>
<g id="axes" stroke="#000" fill="none">
<rect x="205.4" y="20.3" width="1453.4" height="1171.3" stroke-width="5.0"/>
<path d="M207.4 1143.3h21.5M207.4 1094.5h9.5M207.4 1045.7h21.5M207.4 996.8h9.5M207.4 948.0h21.5M207.4 899.2h9.5M207.4 850.4h21.5M207.4 801.6h9.5M207.4 752.7h21.5M207.4 703.9h9.5M207.4 655.1h21.5M207.4 606.3h9.5M207.4 557.5h21.5M207.4 508.6h9.5M207.4 459.8h21.5M207.4 411.0h9.5M207.4 362.2h21.5M207.4 313.4h9.5M207.4 264.5h21.5M207.4 215.7h9.5M207.4 166.9h21.5M207.4 118.1h9.5M207.4 69.3h21.5" stroke-width="5.8"/>
<path d="M275.4 1189.6v-9.5M344.5 1189.6v-20.5M413.6 1189.6v-9.5M482.7 1189.6v-20.5M551.8 1189.6v-9.5M620.9 1189.6v-20.5M690.0 1189.6v-9.5M759.1 1189.6v-20.5M828.2 1189.6v-9.5M897.4 1189.6v-20.5M966.5 1189.6v-9.5M1035.6 1189.6v-20.5M1104.7 1189.6v-9.5M1173.8 1189.6v-20.5M1242.9 1189.6v-9.5M1312.0 1189.6v-20.5M1381.1 1189.6v-9.5M1450.2 1189.6v-20.5M1519.3 1189.6v-9.5M1588.5 1189.6v-20.5" stroke-width="5.0"/>
</g>
<g id="ticklabels" font-size="48">
<text x="181" y="1158.8" text-anchor="end">0</text>
<text x="181" y="1061.2" text-anchor="end">20</text>
<text x="181" y="963.5" text-anchor="end">40</text>
<text x="181" y="865.9" text-anchor="end">60</text>
<text x="181" y="768.2" text-anchor="end">80</text>
<text x="181" y="670.6" text-anchor="end">100</text>
<text x="181" y="573.0" text-anchor="end">120</text>
<text x="181" y="475.3" text-anchor="end">140</text>
<text x="181" y="377.7" text-anchor="end">160</text>
<text x="181" y="280.0" text-anchor="end">180</text>
<text x="181" y="182.4" text-anchor="end">200</text>
<text x="181" y="84.8" text-anchor="end">220</text>
<text transform="translate(159.0 1255) scale(1.133 1)">−</text><text x="193.0" y="1255">1.4</text>
<text transform="translate(297.2 1255) scale(1.133 1)">−</text><text x="331.2" y="1255">1.2</text>
<text transform="translate(435.4 1255) scale(1.133 1)">−</text><text x="469.4" y="1255">1.0</text>
<text transform="translate(573.6 1255) scale(1.133 1)">−</text><text x="607.6" y="1255">0.8</text>
<text transform="translate(711.8 1255) scale(1.133 1)">−</text><text x="745.8" y="1255">0.6</text>
<text transform="translate(850.1 1255) scale(1.133 1)">−</text><text x="884.1" y="1255">0.4</text>
<text transform="translate(988.3 1255) scale(1.133 1)">−</text><text x="1022.3" y="1255">0.2</text>
<text x="1174.6" y="1255" text-anchor="middle">0.0</text>
<text x="1312.8" y="1255" text-anchor="middle">0.2</text>
<text x="1451.0" y="1255" text-anchor="middle">0.4</text>
<text x="1589.3" y="1255" text-anchor="middle">0.6</text>
</g>
<text x="722.4" y="1345" font-size="55.7" textLength="423.5" lengthAdjust="spacing">V vs. Ag/AgCl (V)</text>
<text transform="translate(61.6 604.3) rotate(-90)" font-size="55.7" text-anchor="middle">Current (μA/cm<tspan font-size="36.4" dy="-22.5">2</tspan><tspan dy="22.5">)</tspan></text>
<text x="666.8" y="85" font-size="44.25">SPCE/Fe<tspan font-size="29.5" dy="11.5">3</tspan><tspan dy="-11.5">O</tspan><tspan font-size="29.5" dy="11.5">4</tspan><tspan dy="-11.5">@PEI@AuNPs_IONO</tspan></text>
<g id="legend">
<text x="380.2" y="138.8" font-size="39.3">Concentration 2 mM</text>
<rect x="242.2" y="176.0" width="91.6" height="6.0" rx="2" fill="#b034ff"/>
<text x="341.6" y="191.4" font-size="39.2" text-anchor="start">Pb<tspan font-size="25.6" dy="-16.2" dx="0.0">2+</tspan></text>
<rect x="242.2" y="230.7" width="91.6" height="5.2" rx="2" fill="#00c5cd"/>
<text x="341.6" y="245.7" font-size="39.2" text-anchor="start">Cd<tspan font-size="25.6" dy="-16.2" dx="0.0">2+</tspan></text>
<rect x="242.2" y="284.1" width="91.6" height="5.2" rx="2" fill="#0070e0"/>
<text x="341.6" y="299.1" font-size="39.2" text-anchor="start">Hg<tspan font-size="25.6" dy="-16.2" dx="0.0">2+</tspan></text>
<rect x="242.2" y="337.7" width="91.6" height="5.2" rx="2" fill="#058a05"/>
<text x="341.6" y="352.7" font-size="39.2" text-anchor="start">Cr<tspan font-size="25.6" dy="-16.2" dx="0.0">3+</tspan></text>
<rect x="451.2" y="176.0" width="91.8" height="6.0" rx="2" fill="#757575"/>
<text x="550.4" y="191.4" font-size="39.2">Pb<tspan font-size="25.6" dy="-16.2">2+</tspan><tspan dy="16.2">/Hg</tspan><tspan font-size="25.6" dy="-16.2">2+</tspan><tspan dy="16.2" dx="0.8"> mixture</tspan></text>
<rect x="451.2" y="230.7" width="91.8" height="5.2" rx="2" fill="#f93c3c"/>
<text x="550.4" y="245.7" font-size="39.2">Cd<tspan font-size="25.6" dy="-16.2">2+</tspan><tspan dy="16.2">/Hg</tspan><tspan font-size="25.6" dy="-16.2">2+</tspan><tspan dy="16.2" dx="0.8"> mixture</tspan></text>
</g>
<g id="annotations">
<text x="337.7" y="505.8" font-size="49.2" text-anchor="start">Pb<tspan font-size="33.8" dy="-20.3" dx="2.6">2+</tspan></text>
<text x="1432.8" y="370.8" font-size="49.2" text-anchor="start">Hg<tspan font-size="33.8" dy="-20.3" dx="2.6">2+</tspan></text>
<line x1="490.3" y1="438.0" x2="550.3" y2="489.9" stroke="#000" stroke-width="2.3"/><polygon points="573.0,509.5 543.4,494.8 554.2,482.3" fill="#000"/>
<line x1="1345.8" y1="316.3" x2="1311.0" y2="380.3" stroke="#000" stroke-width="2.3"/><polygon points="1296.7,406.7 1304.7,374.6 1319.2,382.5" fill="#000"/>
<line x1="1397.2" y1="317.0" x2="1397.2" y2="706.5" stroke="#000" stroke-width="2.1"/><polygon points="1397.2,736.5 1388.7,704.5 1405.7,704.5" fill="#000"/>
</g>
</svg>
</body>
</html>
